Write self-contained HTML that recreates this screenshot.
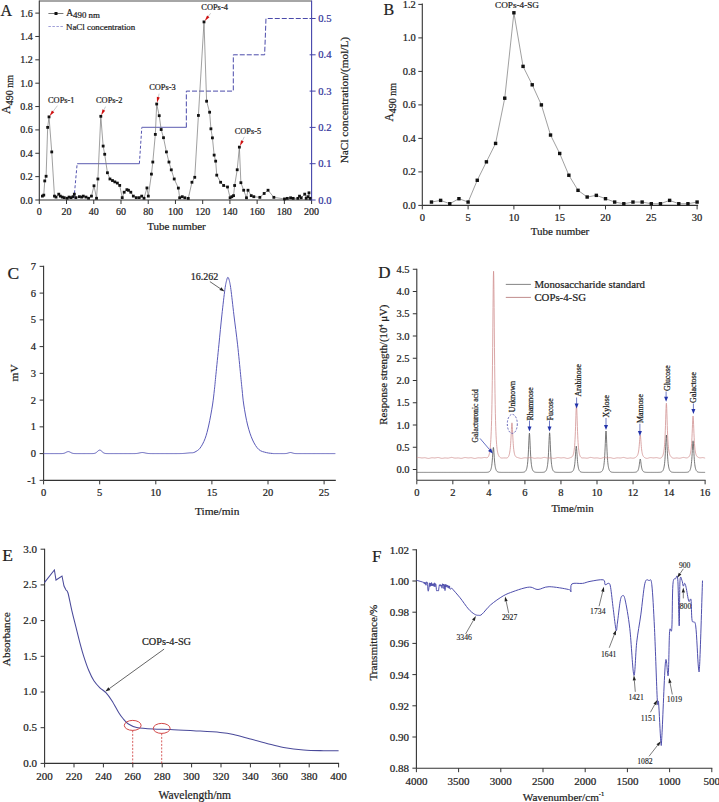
<!DOCTYPE html>
<html><head><meta charset="utf-8"><style>
html,body{margin:0;padding:0;background:#fff;}
svg{display:block;font-family:"Liberation Serif", serif;}
text{stroke:#222;stroke-width:0.22px;}
text.b{stroke:#33339a;}
text.n{stroke-width:0.12px;}
</style></head><body>
<svg width="719" height="802" viewBox="0 0 719 802">
<rect width="719" height="802" fill="#fff"/>
<line x1="39.30" y1="1.00" x2="311.60" y2="1.00" stroke="#888" stroke-width="1.3" />
<line x1="39.30" y1="0.50" x2="39.30" y2="200.00" stroke="#333" stroke-width="1.1" />
<line x1="39.30" y1="200.00" x2="311.60" y2="200.00" stroke="#333" stroke-width="1.1" />
<line x1="311.60" y1="0.50" x2="311.60" y2="200.00" stroke="#4444aa" stroke-width="1.1" />
<line x1="35.30" y1="200.00" x2="39.30" y2="200.00" stroke="#333" stroke-width="1" />
<text x="32.80" y="200.00" font-size="10" text-anchor="end" dominant-baseline="central" fill="#222" >0.0</text>
<line x1="35.30" y1="176.64" x2="39.30" y2="176.64" stroke="#333" stroke-width="1" />
<text x="32.80" y="176.64" font-size="10" text-anchor="end" dominant-baseline="central" fill="#222" >0.2</text>
<line x1="35.30" y1="153.28" x2="39.30" y2="153.28" stroke="#333" stroke-width="1" />
<text x="32.80" y="153.28" font-size="10" text-anchor="end" dominant-baseline="central" fill="#222" >0.4</text>
<line x1="35.30" y1="129.92" x2="39.30" y2="129.92" stroke="#333" stroke-width="1" />
<text x="32.80" y="129.92" font-size="10" text-anchor="end" dominant-baseline="central" fill="#222" >0.6</text>
<line x1="35.30" y1="106.56" x2="39.30" y2="106.56" stroke="#333" stroke-width="1" />
<text x="32.80" y="106.56" font-size="10" text-anchor="end" dominant-baseline="central" fill="#222" >0.8</text>
<line x1="35.30" y1="83.20" x2="39.30" y2="83.20" stroke="#333" stroke-width="1" />
<text x="32.80" y="83.20" font-size="10" text-anchor="end" dominant-baseline="central" fill="#222" >1.0</text>
<line x1="35.30" y1="59.84" x2="39.30" y2="59.84" stroke="#333" stroke-width="1" />
<text x="32.80" y="59.84" font-size="10" text-anchor="end" dominant-baseline="central" fill="#222" >1.2</text>
<line x1="35.30" y1="36.48" x2="39.30" y2="36.48" stroke="#333" stroke-width="1" />
<text x="32.80" y="36.48" font-size="10" text-anchor="end" dominant-baseline="central" fill="#222" >1.4</text>
<line x1="35.30" y1="13.12" x2="39.30" y2="13.12" stroke="#333" stroke-width="1" />
<text x="32.80" y="13.12" font-size="10" text-anchor="end" dominant-baseline="central" fill="#222" >1.6</text>
<line x1="39.30" y1="200.00" x2="39.30" y2="204.00" stroke="#333" stroke-width="1" />
<text x="39.30" y="211.70" font-size="10" text-anchor="middle" dominant-baseline="central" fill="#222" >0</text>
<line x1="66.53" y1="200.00" x2="66.53" y2="204.00" stroke="#333" stroke-width="1" />
<text x="66.53" y="211.70" font-size="10" text-anchor="middle" dominant-baseline="central" fill="#222" >20</text>
<line x1="93.76" y1="200.00" x2="93.76" y2="204.00" stroke="#333" stroke-width="1" />
<text x="93.76" y="211.70" font-size="10" text-anchor="middle" dominant-baseline="central" fill="#222" >40</text>
<line x1="120.99" y1="200.00" x2="120.99" y2="204.00" stroke="#333" stroke-width="1" />
<text x="120.99" y="211.70" font-size="10" text-anchor="middle" dominant-baseline="central" fill="#222" >60</text>
<line x1="148.22" y1="200.00" x2="148.22" y2="204.00" stroke="#333" stroke-width="1" />
<text x="148.22" y="211.70" font-size="10" text-anchor="middle" dominant-baseline="central" fill="#222" >80</text>
<line x1="175.45" y1="200.00" x2="175.45" y2="204.00" stroke="#333" stroke-width="1" />
<text x="175.45" y="211.70" font-size="10" text-anchor="middle" dominant-baseline="central" fill="#222" >100</text>
<line x1="202.68" y1="200.00" x2="202.68" y2="204.00" stroke="#333" stroke-width="1" />
<text x="202.68" y="211.70" font-size="10" text-anchor="middle" dominant-baseline="central" fill="#222" >120</text>
<line x1="229.91" y1="200.00" x2="229.91" y2="204.00" stroke="#333" stroke-width="1" />
<text x="229.91" y="211.70" font-size="10" text-anchor="middle" dominant-baseline="central" fill="#222" >140</text>
<line x1="257.14" y1="200.00" x2="257.14" y2="204.00" stroke="#333" stroke-width="1" />
<text x="257.14" y="211.70" font-size="10" text-anchor="middle" dominant-baseline="central" fill="#222" >160</text>
<line x1="284.37" y1="200.00" x2="284.37" y2="204.00" stroke="#333" stroke-width="1" />
<text x="284.37" y="211.70" font-size="10" text-anchor="middle" dominant-baseline="central" fill="#222" >180</text>
<line x1="311.60" y1="200.00" x2="311.60" y2="204.00" stroke="#333" stroke-width="1" />
<text x="311.60" y="211.70" font-size="10" text-anchor="middle" dominant-baseline="central" fill="#222" >200</text>
<line x1="309.60" y1="200.00" x2="315.60" y2="200.00" stroke="#4444aa" stroke-width="1" />
<text x="318.20" y="200.00" font-size="10.6" text-anchor="start" dominant-baseline="central" fill="#33339a" class="b">0.0</text>
<line x1="309.60" y1="163.70" x2="315.60" y2="163.70" stroke="#4444aa" stroke-width="1" />
<text x="318.20" y="163.70" font-size="10.6" text-anchor="start" dominant-baseline="central" fill="#33339a" class="b">0.1</text>
<line x1="309.60" y1="127.40" x2="315.60" y2="127.40" stroke="#4444aa" stroke-width="1" />
<text x="318.20" y="127.40" font-size="10.6" text-anchor="start" dominant-baseline="central" fill="#33339a" class="b">0.2</text>
<line x1="309.60" y1="91.10" x2="315.60" y2="91.10" stroke="#4444aa" stroke-width="1" />
<text x="318.20" y="91.10" font-size="10.6" text-anchor="start" dominant-baseline="central" fill="#33339a" class="b">0.3</text>
<line x1="309.60" y1="54.80" x2="315.60" y2="54.80" stroke="#4444aa" stroke-width="1" />
<text x="318.20" y="54.80" font-size="10.6" text-anchor="start" dominant-baseline="central" fill="#33339a" class="b">0.4</text>
<line x1="309.60" y1="18.50" x2="315.60" y2="18.50" stroke="#4444aa" stroke-width="1" />
<text x="318.20" y="18.50" font-size="10.6" text-anchor="start" dominant-baseline="central" fill="#33339a" class="b">0.5</text>
<text x="176.50" y="225.50" font-size="11" text-anchor="middle" dominant-baseline="central" fill="#222" >Tube number</text>
<text transform="translate(10,94.5) rotate(-90)" font-size="12" text-anchor="middle" fill="#222">A<tspan font-size="10" dy="3">490 nm</tspan></text>
<text transform="translate(347.8,100.1) rotate(-90)" font-size="11.3" text-anchor="middle" fill="#222">NaCl concentration/(mol/L)</text>
<text x="0.5" y="15.9" font-size="16" fill="#222">A</text>
<line x1="48.40" y1="13.50" x2="63.40" y2="13.50" stroke="#555" stroke-width="0.8" />
<rect x="54.5" y="12" width="3" height="3" fill="#111"/>
<text x="66.2" y="16.2" font-size="9.5" fill="#222">A<tspan font-size="8.9" dy="1.8">490 nm</tspan></text>
<line x1="48.40" y1="26.50" x2="63.40" y2="26.50" stroke="#a0a0d8" stroke-width="1" stroke-dasharray="2.5,1.5"/>
<text x="66" y="29.5" font-size="8.9" fill="#222">NaCl concentration</text>
<polyline points="74.02,198.19 77.15,163.70" fill="none" stroke="#5555b0" stroke-width="1" stroke-linejoin="round" stroke-dasharray="3,2"/>
<polyline points="77.15,163.70 139.37,163.70" fill="none" stroke="#7c7cc0" stroke-width="1.2" stroke-linejoin="round" />
<polyline points="139.37,163.70 141.82,127.40" fill="none" stroke="#5555b0" stroke-width="1" stroke-linejoin="round" stroke-dasharray="3,2"/>
<polyline points="141.82,127.40 186.34,127.40" fill="none" stroke="#7c7cc0" stroke-width="1.2" stroke-linejoin="round" />
<polyline points="186.34,127.40 186.34,91.10 233.31,91.10 233.31,54.80 264.63,54.80 265.99,18.50 311.60,18.50" fill="none" stroke="#4a4aaa" stroke-width="1" stroke-linejoin="round" stroke-dasharray="5,2"/>
<polyline points="42.40,196.11 43.76,195.14 44.74,180.93 46.10,176.25 47.66,127.38 49.02,116.87 51.74,151.92 54.47,196.11 56.03,197.09 58.75,194.17 60.31,196.11 62.26,197.09 64.21,197.67 67.13,198.26 69.07,197.09 71.02,197.67 72.97,196.70 74.33,194.17 75.89,197.67 79.39,196.70 81.73,197.09 83.29,196.11 86.01,197.09 88.54,198.26 91.46,196.11 94.00,185.79 96.53,198.26 97.89,178.98 100.81,116.29 103.15,146.07 104.70,154.25 107.43,172.75 109.96,178.98 112.49,180.54 114.83,181.90 117.36,183.07 119.70,185.40 122.23,197.67 124.17,192.22 126.90,189.69 128.46,190.27 130.79,192.22 133.33,196.11 136.25,197.67 139.17,197.67 141.70,196.11 144.03,198.26 146.95,187.94 148.32,196.11 151.43,174.11 152.80,162.04 155.33,134.39 156.69,104.02 159.22,115.70 161.17,129.52 163.50,137.70 166.43,151.92 168.96,162.04 171.29,169.83 174.21,178.98 178.36,188.08 179.66,197.78 182.25,196.70 184.83,197.78 188.28,198.43 191.95,182.26 194.75,177.30 198.41,115.44 204.00,21.90 206.60,101.21 209.62,112.20 210.92,128.80 212.42,137.86 214.15,155.10 215.66,161.14 216.74,175.15 220.62,182.26 223.63,185.49 227.51,187.00 230.10,197.78 231.82,196.70 233.55,195.63 234.63,185.49 237.21,169.76 239.37,147.12 240.88,182.69 243.68,190.24 246.48,197.78 247.99,190.24 251.23,195.63 253.81,196.70 259.85,197.35 264.16,193.47 268.04,190.24 273.86,197.35 284.49,198.93 287.27,198.37 290.61,197.81 293.17,198.37 297.84,198.37 299.51,196.15 301.18,197.81 304.74,194.14 306.18,198.37 307.85,196.70 308.97,192.81 310.08,198.37" fill="none" stroke="#777" stroke-width="0.7" stroke-linejoin="round" />
<rect x="41.00" y="194.71" width="2.8" height="2.8" fill="#111"/>
<rect x="42.36" y="193.74" width="2.8" height="2.8" fill="#111"/>
<rect x="43.34" y="179.53" width="2.8" height="2.8" fill="#111"/>
<rect x="44.70" y="174.85" width="2.8" height="2.8" fill="#111"/>
<rect x="46.26" y="125.98" width="2.8" height="2.8" fill="#111"/>
<rect x="47.62" y="115.47" width="2.8" height="2.8" fill="#111"/>
<rect x="50.34" y="150.52" width="2.8" height="2.8" fill="#111"/>
<rect x="53.07" y="194.71" width="2.8" height="2.8" fill="#111"/>
<rect x="54.63" y="195.69" width="2.8" height="2.8" fill="#111"/>
<rect x="57.35" y="192.77" width="2.8" height="2.8" fill="#111"/>
<rect x="58.91" y="194.71" width="2.8" height="2.8" fill="#111"/>
<rect x="60.86" y="195.69" width="2.8" height="2.8" fill="#111"/>
<rect x="62.81" y="196.27" width="2.8" height="2.8" fill="#111"/>
<rect x="65.73" y="196.86" width="2.8" height="2.8" fill="#111"/>
<rect x="67.67" y="195.69" width="2.8" height="2.8" fill="#111"/>
<rect x="69.62" y="196.27" width="2.8" height="2.8" fill="#111"/>
<rect x="71.57" y="195.30" width="2.8" height="2.8" fill="#111"/>
<rect x="72.93" y="192.77" width="2.8" height="2.8" fill="#111"/>
<rect x="74.49" y="196.27" width="2.8" height="2.8" fill="#111"/>
<rect x="77.99" y="195.30" width="2.8" height="2.8" fill="#111"/>
<rect x="80.33" y="195.69" width="2.8" height="2.8" fill="#111"/>
<rect x="81.89" y="194.71" width="2.8" height="2.8" fill="#111"/>
<rect x="84.61" y="195.69" width="2.8" height="2.8" fill="#111"/>
<rect x="87.14" y="196.86" width="2.8" height="2.8" fill="#111"/>
<rect x="90.06" y="194.71" width="2.8" height="2.8" fill="#111"/>
<rect x="92.60" y="184.39" width="2.8" height="2.8" fill="#111"/>
<rect x="95.13" y="196.86" width="2.8" height="2.8" fill="#111"/>
<rect x="96.49" y="177.58" width="2.8" height="2.8" fill="#111"/>
<rect x="99.41" y="114.89" width="2.8" height="2.8" fill="#111"/>
<rect x="101.75" y="144.67" width="2.8" height="2.8" fill="#111"/>
<rect x="103.30" y="152.85" width="2.8" height="2.8" fill="#111"/>
<rect x="106.03" y="171.35" width="2.8" height="2.8" fill="#111"/>
<rect x="108.56" y="177.58" width="2.8" height="2.8" fill="#111"/>
<rect x="111.09" y="179.14" width="2.8" height="2.8" fill="#111"/>
<rect x="113.43" y="180.50" width="2.8" height="2.8" fill="#111"/>
<rect x="115.96" y="181.67" width="2.8" height="2.8" fill="#111"/>
<rect x="118.30" y="184.00" width="2.8" height="2.8" fill="#111"/>
<rect x="120.83" y="196.27" width="2.8" height="2.8" fill="#111"/>
<rect x="122.77" y="190.82" width="2.8" height="2.8" fill="#111"/>
<rect x="125.50" y="188.29" width="2.8" height="2.8" fill="#111"/>
<rect x="127.06" y="188.87" width="2.8" height="2.8" fill="#111"/>
<rect x="129.39" y="190.82" width="2.8" height="2.8" fill="#111"/>
<rect x="131.93" y="194.71" width="2.8" height="2.8" fill="#111"/>
<rect x="134.85" y="196.27" width="2.8" height="2.8" fill="#111"/>
<rect x="137.77" y="196.27" width="2.8" height="2.8" fill="#111"/>
<rect x="140.30" y="194.71" width="2.8" height="2.8" fill="#111"/>
<rect x="142.63" y="196.86" width="2.8" height="2.8" fill="#111"/>
<rect x="145.55" y="186.54" width="2.8" height="2.8" fill="#111"/>
<rect x="146.92" y="194.71" width="2.8" height="2.8" fill="#111"/>
<rect x="150.03" y="172.71" width="2.8" height="2.8" fill="#111"/>
<rect x="151.40" y="160.64" width="2.8" height="2.8" fill="#111"/>
<rect x="153.93" y="132.99" width="2.8" height="2.8" fill="#111"/>
<rect x="155.29" y="102.62" width="2.8" height="2.8" fill="#111"/>
<rect x="157.82" y="114.30" width="2.8" height="2.8" fill="#111"/>
<rect x="159.77" y="128.12" width="2.8" height="2.8" fill="#111"/>
<rect x="162.10" y="136.30" width="2.8" height="2.8" fill="#111"/>
<rect x="165.03" y="150.52" width="2.8" height="2.8" fill="#111"/>
<rect x="167.56" y="160.64" width="2.8" height="2.8" fill="#111"/>
<rect x="169.89" y="168.43" width="2.8" height="2.8" fill="#111"/>
<rect x="172.81" y="177.58" width="2.8" height="2.8" fill="#111"/>
<rect x="176.96" y="186.68" width="2.8" height="2.8" fill="#111"/>
<rect x="178.26" y="196.38" width="2.8" height="2.8" fill="#111"/>
<rect x="180.85" y="195.30" width="2.8" height="2.8" fill="#111"/>
<rect x="183.43" y="196.38" width="2.8" height="2.8" fill="#111"/>
<rect x="186.88" y="197.03" width="2.8" height="2.8" fill="#111"/>
<rect x="190.55" y="180.86" width="2.8" height="2.8" fill="#111"/>
<rect x="193.35" y="175.90" width="2.8" height="2.8" fill="#111"/>
<rect x="197.01" y="114.04" width="2.8" height="2.8" fill="#111"/>
<rect x="202.60" y="20.50" width="2.8" height="2.8" fill="#111"/>
<rect x="205.20" y="99.81" width="2.8" height="2.8" fill="#111"/>
<rect x="208.22" y="110.80" width="2.8" height="2.8" fill="#111"/>
<rect x="209.52" y="127.40" width="2.8" height="2.8" fill="#111"/>
<rect x="211.02" y="136.46" width="2.8" height="2.8" fill="#111"/>
<rect x="212.75" y="153.70" width="2.8" height="2.8" fill="#111"/>
<rect x="214.26" y="159.74" width="2.8" height="2.8" fill="#111"/>
<rect x="215.34" y="173.75" width="2.8" height="2.8" fill="#111"/>
<rect x="219.22" y="180.86" width="2.8" height="2.8" fill="#111"/>
<rect x="222.23" y="184.09" width="2.8" height="2.8" fill="#111"/>
<rect x="226.11" y="185.60" width="2.8" height="2.8" fill="#111"/>
<rect x="228.70" y="196.38" width="2.8" height="2.8" fill="#111"/>
<rect x="230.42" y="195.30" width="2.8" height="2.8" fill="#111"/>
<rect x="232.15" y="194.23" width="2.8" height="2.8" fill="#111"/>
<rect x="233.23" y="184.09" width="2.8" height="2.8" fill="#111"/>
<rect x="235.81" y="168.36" width="2.8" height="2.8" fill="#111"/>
<rect x="237.97" y="145.72" width="2.8" height="2.8" fill="#111"/>
<rect x="239.48" y="181.29" width="2.8" height="2.8" fill="#111"/>
<rect x="242.28" y="188.84" width="2.8" height="2.8" fill="#111"/>
<rect x="245.08" y="196.38" width="2.8" height="2.8" fill="#111"/>
<rect x="246.59" y="188.84" width="2.8" height="2.8" fill="#111"/>
<rect x="249.83" y="194.23" width="2.8" height="2.8" fill="#111"/>
<rect x="252.41" y="195.30" width="2.8" height="2.8" fill="#111"/>
<rect x="258.45" y="195.95" width="2.8" height="2.8" fill="#111"/>
<rect x="262.76" y="192.07" width="2.8" height="2.8" fill="#111"/>
<rect x="266.64" y="188.84" width="2.8" height="2.8" fill="#111"/>
<rect x="272.46" y="195.95" width="2.8" height="2.8" fill="#111"/>
<rect x="283.09" y="197.53" width="2.8" height="2.8" fill="#111"/>
<rect x="285.87" y="196.97" width="2.8" height="2.8" fill="#111"/>
<rect x="289.21" y="196.41" width="2.8" height="2.8" fill="#111"/>
<rect x="291.77" y="196.97" width="2.8" height="2.8" fill="#111"/>
<rect x="296.44" y="196.97" width="2.8" height="2.8" fill="#111"/>
<rect x="298.11" y="194.75" width="2.8" height="2.8" fill="#111"/>
<rect x="299.78" y="196.41" width="2.8" height="2.8" fill="#111"/>
<rect x="303.34" y="192.74" width="2.8" height="2.8" fill="#111"/>
<rect x="304.78" y="196.97" width="2.8" height="2.8" fill="#111"/>
<rect x="306.45" y="195.30" width="2.8" height="2.8" fill="#111"/>
<rect x="307.57" y="191.41" width="2.8" height="2.8" fill="#111"/>
<rect x="308.68" y="196.97" width="2.8" height="2.8" fill="#111"/>
<text x="61.3" y="102.5" font-size="8.4" text-anchor="middle" fill="#222">COPs-1</text>
<line x1="57.40" y1="105.70" x2="52.51" y2="112.20" stroke="#aaa" stroke-width="0.6" />
<polygon points="49.62,116.04 51.91,110.50 54.31,112.31" fill="#d01010"/>
<text x="109.3" y="103.2" font-size="8.4" text-anchor="middle" fill="#222">COPs-2</text>
<line x1="105.62" y1="106.54" x2="103.40" y2="110.94" stroke="#aaa" stroke-width="0.6" />
<polygon points="101.24,115.23 102.51,109.37 105.19,110.73" fill="#d01010"/>
<text x="162.5" y="90.2" font-size="8.4" text-anchor="middle" fill="#222">COPs-3</text>
<line x1="159.15" y1="93.66" x2="158.09" y2="98.16" stroke="#aaa" stroke-width="0.6" />
<polygon points="156.98,102.83 156.86,96.84 159.78,97.54" fill="#d01010"/>
<text x="214.6" y="10.0" font-size="8.4" text-anchor="middle" fill="#222">COPs-4</text>
<line x1="210.69" y1="13.19" x2="207.65" y2="17.14" stroke="#aaa" stroke-width="0.6" />
<polygon points="204.73,20.95 207.07,15.43 209.45,17.26" fill="#d01010"/>
<text x="247.9" y="133.5" font-size="8.4" text-anchor="middle" fill="#222">COPs-5</text>
<line x1="244.26" y1="136.86" x2="241.97" y2="141.68" stroke="#aaa" stroke-width="0.6" />
<polygon points="239.91,146.02 241.04,140.13 243.75,141.42" fill="#d01010"/>
<line x1="422.30" y1="3.50" x2="422.30" y2="205.40" stroke="#333" stroke-width="1.1" />
<line x1="422.30" y1="205.40" x2="698.10" y2="205.40" stroke="#333" stroke-width="1.1" />
<line x1="418.30" y1="205.40" x2="422.30" y2="205.40" stroke="#333" stroke-width="1" />
<text x="415.80" y="205.40" font-size="10.5" text-anchor="end" dominant-baseline="central" fill="#222" >0.0</text>
<line x1="418.30" y1="171.90" x2="422.30" y2="171.90" stroke="#333" stroke-width="1" />
<text x="415.80" y="171.90" font-size="10.5" text-anchor="end" dominant-baseline="central" fill="#222" >0.2</text>
<line x1="418.30" y1="138.40" x2="422.30" y2="138.40" stroke="#333" stroke-width="1" />
<text x="415.80" y="138.40" font-size="10.5" text-anchor="end" dominant-baseline="central" fill="#222" >0.4</text>
<line x1="418.30" y1="104.90" x2="422.30" y2="104.90" stroke="#333" stroke-width="1" />
<text x="415.80" y="104.90" font-size="10.5" text-anchor="end" dominant-baseline="central" fill="#222" >0.6</text>
<line x1="418.30" y1="71.40" x2="422.30" y2="71.40" stroke="#333" stroke-width="1" />
<text x="415.80" y="71.40" font-size="10.5" text-anchor="end" dominant-baseline="central" fill="#222" >0.8</text>
<line x1="418.30" y1="37.90" x2="422.30" y2="37.90" stroke="#333" stroke-width="1" />
<text x="415.80" y="37.90" font-size="10.5" text-anchor="end" dominant-baseline="central" fill="#222" >1.0</text>
<line x1="418.30" y1="4.40" x2="422.30" y2="4.40" stroke="#333" stroke-width="1" />
<text x="415.80" y="4.40" font-size="10.5" text-anchor="end" dominant-baseline="central" fill="#222" >1.2</text>
<line x1="422.30" y1="205.40" x2="422.30" y2="209.40" stroke="#333" stroke-width="1" />
<text x="422.30" y="217.30" font-size="10.5" text-anchor="middle" dominant-baseline="central" fill="#222" >0</text>
<line x1="468.10" y1="205.40" x2="468.10" y2="209.40" stroke="#333" stroke-width="1" />
<text x="468.10" y="217.30" font-size="10.5" text-anchor="middle" dominant-baseline="central" fill="#222" >5</text>
<line x1="513.90" y1="205.40" x2="513.90" y2="209.40" stroke="#333" stroke-width="1" />
<text x="513.90" y="217.30" font-size="10.5" text-anchor="middle" dominant-baseline="central" fill="#222" >10</text>
<line x1="559.70" y1="205.40" x2="559.70" y2="209.40" stroke="#333" stroke-width="1" />
<text x="559.70" y="217.30" font-size="10.5" text-anchor="middle" dominant-baseline="central" fill="#222" >15</text>
<line x1="605.50" y1="205.40" x2="605.50" y2="209.40" stroke="#333" stroke-width="1" />
<text x="605.50" y="217.30" font-size="10.5" text-anchor="middle" dominant-baseline="central" fill="#222" >20</text>
<line x1="651.30" y1="205.40" x2="651.30" y2="209.40" stroke="#333" stroke-width="1" />
<text x="651.30" y="217.30" font-size="10.5" text-anchor="middle" dominant-baseline="central" fill="#222" >25</text>
<line x1="697.10" y1="205.40" x2="697.10" y2="209.40" stroke="#333" stroke-width="1" />
<text x="697.10" y="217.30" font-size="10.5" text-anchor="middle" dominant-baseline="central" fill="#222" >30</text>
<text x="560.00" y="231.00" font-size="11" text-anchor="middle" dominant-baseline="central" fill="#222" >Tube number</text>
<text transform="translate(393,102.3) rotate(-90)" font-size="11.5" text-anchor="middle" fill="#222">A<tspan font-size="10" dy="3.2">490 nm</tspan></text>
<text x="383.5" y="14.8" font-size="16" fill="#222">B</text>
<text x="517.00" y="4.60" font-size="9.2" text-anchor="middle" dominant-baseline="central" fill="#222" >COPs-4-SG</text>
<polyline points="431.46,202.05 440.62,200.38 449.78,203.72 458.94,198.70 468.10,202.05 477.26,180.28 486.42,161.85 495.58,143.43 504.74,98.20 513.90,12.78 523.06,66.38 532.22,84.80 541.38,104.90 550.54,135.05 559.70,153.48 568.86,175.25 578.02,190.33 587.18,197.03 596.34,195.35 605.50,198.70 614.66,202.05 623.82,203.72 632.98,202.05 642.14,202.05 651.30,203.72 660.46,203.72 669.62,200.38 678.78,203.72 687.94,203.72 697.10,202.05" fill="none" stroke="#777" stroke-width="0.7" stroke-linejoin="round" />
<rect x="429.76" y="200.35" width="3.4" height="3.4" fill="#111"/>
<rect x="438.92" y="198.68" width="3.4" height="3.4" fill="#111"/>
<rect x="448.08" y="202.03" width="3.4" height="3.4" fill="#111"/>
<rect x="457.24" y="197.00" width="3.4" height="3.4" fill="#111"/>
<rect x="466.40" y="200.35" width="3.4" height="3.4" fill="#111"/>
<rect x="475.56" y="178.58" width="3.4" height="3.4" fill="#111"/>
<rect x="484.72" y="160.15" width="3.4" height="3.4" fill="#111"/>
<rect x="493.88" y="141.73" width="3.4" height="3.4" fill="#111"/>
<rect x="503.04" y="96.50" width="3.4" height="3.4" fill="#111"/>
<rect x="512.20" y="11.08" width="3.4" height="3.4" fill="#111"/>
<rect x="521.36" y="64.67" width="3.4" height="3.4" fill="#111"/>
<rect x="530.52" y="83.10" width="3.4" height="3.4" fill="#111"/>
<rect x="539.68" y="103.20" width="3.4" height="3.4" fill="#111"/>
<rect x="548.84" y="133.35" width="3.4" height="3.4" fill="#111"/>
<rect x="558.00" y="151.78" width="3.4" height="3.4" fill="#111"/>
<rect x="567.16" y="173.55" width="3.4" height="3.4" fill="#111"/>
<rect x="576.32" y="188.63" width="3.4" height="3.4" fill="#111"/>
<rect x="585.48" y="195.33" width="3.4" height="3.4" fill="#111"/>
<rect x="594.64" y="193.65" width="3.4" height="3.4" fill="#111"/>
<rect x="603.80" y="197.00" width="3.4" height="3.4" fill="#111"/>
<rect x="612.96" y="200.35" width="3.4" height="3.4" fill="#111"/>
<rect x="622.12" y="202.03" width="3.4" height="3.4" fill="#111"/>
<rect x="631.28" y="200.35" width="3.4" height="3.4" fill="#111"/>
<rect x="640.44" y="200.35" width="3.4" height="3.4" fill="#111"/>
<rect x="649.60" y="202.03" width="3.4" height="3.4" fill="#111"/>
<rect x="658.76" y="202.03" width="3.4" height="3.4" fill="#111"/>
<rect x="667.92" y="198.68" width="3.4" height="3.4" fill="#111"/>
<rect x="677.08" y="202.03" width="3.4" height="3.4" fill="#111"/>
<rect x="686.24" y="202.03" width="3.4" height="3.4" fill="#111"/>
<rect x="695.40" y="200.35" width="3.4" height="3.4" fill="#111"/>
<line x1="43.60" y1="265.85" x2="43.60" y2="480.35" stroke="#333" stroke-width="1.1" />
<line x1="43.60" y1="480.35" x2="335.82" y2="480.35" stroke="#333" stroke-width="1.1" />
<line x1="39.60" y1="480.35" x2="43.60" y2="480.35" stroke="#333" stroke-width="1" />
<text x="36.10" y="480.35" font-size="10.5" text-anchor="end" dominant-baseline="central" fill="#222" >-1</text>
<line x1="39.60" y1="453.60" x2="43.60" y2="453.60" stroke="#333" stroke-width="1" />
<text x="36.10" y="453.60" font-size="10.5" text-anchor="end" dominant-baseline="central" fill="#222" >0</text>
<line x1="39.60" y1="426.85" x2="43.60" y2="426.85" stroke="#333" stroke-width="1" />
<text x="36.10" y="426.85" font-size="10.5" text-anchor="end" dominant-baseline="central" fill="#222" >1</text>
<line x1="39.60" y1="400.10" x2="43.60" y2="400.10" stroke="#333" stroke-width="1" />
<text x="36.10" y="400.10" font-size="10.5" text-anchor="end" dominant-baseline="central" fill="#222" >2</text>
<line x1="39.60" y1="373.35" x2="43.60" y2="373.35" stroke="#333" stroke-width="1" />
<text x="36.10" y="373.35" font-size="10.5" text-anchor="end" dominant-baseline="central" fill="#222" >3</text>
<line x1="39.60" y1="346.60" x2="43.60" y2="346.60" stroke="#333" stroke-width="1" />
<text x="36.10" y="346.60" font-size="10.5" text-anchor="end" dominant-baseline="central" fill="#222" >4</text>
<line x1="39.60" y1="319.85" x2="43.60" y2="319.85" stroke="#333" stroke-width="1" />
<text x="36.10" y="319.85" font-size="10.5" text-anchor="end" dominant-baseline="central" fill="#222" >5</text>
<line x1="39.60" y1="293.10" x2="43.60" y2="293.10" stroke="#333" stroke-width="1" />
<text x="36.10" y="293.10" font-size="10.5" text-anchor="end" dominant-baseline="central" fill="#222" >6</text>
<line x1="39.60" y1="266.35" x2="43.60" y2="266.35" stroke="#333" stroke-width="1" />
<text x="36.10" y="266.35" font-size="10.5" text-anchor="end" dominant-baseline="central" fill="#222" >7</text>
<line x1="43.60" y1="480.35" x2="43.60" y2="484.35" stroke="#333" stroke-width="1" />
<text x="43.60" y="492.50" font-size="10.5" text-anchor="middle" dominant-baseline="central" fill="#222" >0</text>
<line x1="99.70" y1="480.35" x2="99.70" y2="484.35" stroke="#333" stroke-width="1" />
<text x="99.70" y="492.50" font-size="10.5" text-anchor="middle" dominant-baseline="central" fill="#222" >5</text>
<line x1="155.80" y1="480.35" x2="155.80" y2="484.35" stroke="#333" stroke-width="1" />
<text x="155.80" y="492.50" font-size="10.5" text-anchor="middle" dominant-baseline="central" fill="#222" >10</text>
<line x1="211.90" y1="480.35" x2="211.90" y2="484.35" stroke="#333" stroke-width="1" />
<text x="211.90" y="492.50" font-size="10.5" text-anchor="middle" dominant-baseline="central" fill="#222" >15</text>
<line x1="268.00" y1="480.35" x2="268.00" y2="484.35" stroke="#333" stroke-width="1" />
<text x="268.00" y="492.50" font-size="10.5" text-anchor="middle" dominant-baseline="central" fill="#222" >20</text>
<line x1="324.10" y1="480.35" x2="324.10" y2="484.35" stroke="#333" stroke-width="1" />
<text x="324.10" y="492.50" font-size="10.5" text-anchor="middle" dominant-baseline="central" fill="#222" >25</text>
<text x="217.2" y="514.6" font-size="11.4" text-anchor="middle" fill="#222">Time/min</text>
<text transform="translate(18,372.9) rotate(-90)" font-size="11.4" text-anchor="middle" fill="#222">mV</text>
<text x="7.6" y="278.6" font-size="17.5" fill="#222">C</text>
<path d="M43.60,453.60 L44.16,453.60 L44.72,453.60 L45.28,453.60 L45.84,453.60 L46.41,453.60 L46.97,453.60 L47.53,453.60 L48.09,453.60 L48.65,453.60 L49.21,453.60 L49.77,453.60 L50.33,453.60 L50.89,453.60 L51.45,453.60 L52.02,453.60 L52.58,453.60 L53.14,453.60 L53.70,453.60 L54.26,453.60 L54.82,453.60 L55.38,453.60 L55.94,453.60 L56.50,453.60 L57.06,453.60 L57.62,453.60 L58.19,453.60 L58.75,453.60 L59.31,453.60 L59.87,453.60 L60.43,453.60 L60.99,453.59 L61.55,453.58 L62.11,453.55 L62.67,453.51 L63.23,453.44 L63.80,453.33 L64.36,453.17 L64.92,452.95 L65.48,452.68 L66.04,452.38 L66.60,452.09 L67.16,451.83 L67.72,451.66 L68.28,451.59 L68.84,451.66 L69.41,451.83 L69.97,452.09 L70.53,452.38 L71.09,452.68 L71.65,452.95 L72.21,453.17 L72.77,453.33 L73.33,453.44 L73.89,453.51 L74.45,453.55 L75.02,453.58 L75.58,453.59 L76.14,453.60 L76.70,453.60 L77.26,453.60 L77.82,453.60 L78.38,453.60 L78.94,453.60 L79.50,453.60 L80.06,453.60 L80.63,453.60 L81.19,453.60 L81.75,453.60 L82.31,453.60 L82.87,453.60 L83.43,453.60 L83.99,453.60 L84.55,453.60 L85.11,453.60 L85.68,453.60 L86.24,453.60 L86.80,453.60 L87.36,453.60 L87.92,453.60 L88.48,453.60 L89.04,453.60 L89.60,453.60 L90.16,453.60 L90.72,453.60 L91.28,453.60 L91.85,453.59 L92.41,453.58 L92.97,453.56 L93.53,453.52 L94.09,453.45 L94.65,453.32 L95.21,453.13 L95.77,452.85 L96.33,452.47 L96.90,452.01 L97.46,451.49 L98.02,450.98 L98.58,450.53 L99.14,450.23 L99.70,450.12 L100.26,450.23 L100.82,450.53 L101.38,450.98 L101.94,451.49 L102.50,452.01 L103.07,452.47 L103.63,452.85 L104.19,453.13 L104.75,453.32 L105.31,453.45 L105.87,453.52 L106.43,453.56 L106.99,453.58 L107.55,453.59 L108.12,453.60 L108.68,453.60 L109.24,453.60 L109.80,453.60 L110.36,453.60 L110.92,453.60 L111.48,453.60 L112.04,453.60 L112.60,453.60 L113.16,453.60 L113.72,453.60 L114.29,453.60 L114.85,453.60 L115.41,453.60 L115.97,453.60 L116.53,453.60 L117.09,453.60 L117.65,453.60 L118.21,453.60 L118.77,453.60 L119.34,453.60 L119.90,453.60 L120.46,453.60 L121.02,453.60 L121.58,453.60 L122.14,453.60 L122.70,453.60 L123.26,453.60 L123.82,453.60 L124.38,453.60 L124.94,453.60 L125.51,453.60 L126.07,453.60 L126.63,453.60 L127.19,453.60 L127.75,453.60 L128.31,453.60 L128.87,453.60 L129.43,453.60 L129.99,453.60 L130.56,453.60 L131.12,453.60 L131.68,453.60 L132.24,453.60 L132.80,453.60 L133.36,453.59 L133.92,453.59 L134.48,453.58 L135.04,453.56 L135.60,453.54 L136.17,453.50 L136.73,453.46 L137.29,453.39 L137.85,453.30 L138.41,453.20 L138.97,453.08 L139.53,452.95 L140.09,452.82 L140.65,452.71 L141.21,452.61 L141.78,452.55 L142.34,452.53 L142.90,452.55 L143.46,452.61 L144.02,452.71 L144.58,452.82 L145.14,452.95 L145.70,453.08 L146.26,453.20 L146.82,453.30 L147.39,453.39 L147.95,453.46 L148.51,453.50 L149.07,453.54 L149.63,453.56 L150.19,453.58 L150.75,453.59 L151.31,453.59 L151.87,453.60 L152.43,453.60 L153.00,453.60 L153.56,453.60 L154.12,453.60 L154.68,453.60 L155.24,453.60 L155.80,453.60 L156.36,453.60 L156.92,453.60 L157.48,453.60 L158.04,453.60 L158.61,453.60 L159.17,453.60 L159.73,453.60 L160.29,453.60 L160.85,453.60 L161.41,453.60 L161.97,453.60 L162.53,453.60 L163.09,453.60 L163.65,453.60 L164.22,453.60 L164.78,453.60 L165.34,453.60 L165.90,453.60 L166.46,453.60 L167.02,453.60 L167.58,453.60 L168.14,453.60 L168.70,453.60 L169.26,453.60 L169.83,453.60 L170.39,453.60 L170.95,453.60 L171.51,453.60 L172.07,453.60 L172.63,453.60 L173.19,453.60 L173.75,453.60 L174.31,453.60 L174.87,453.60 L175.44,453.60 L176.00,453.60 L176.56,453.60 L177.12,453.60 L177.68,453.59 L178.24,453.59 L178.80,453.59 L179.36,453.58 L179.92,453.57 L180.48,453.56 L181.05,453.55 L181.61,453.54 L182.17,453.52 L182.73,453.49 L183.29,453.46 L183.85,453.43 L184.41,453.39 L184.97,453.34 L185.53,453.29 L186.09,453.23 L186.66,453.17 L187.22,453.11 L187.78,453.05 L188.34,452.99 L188.90,452.94 L189.46,452.89 L190.02,452.85 L190.58,452.82 L191.14,452.80 L191.70,452.80 L192.27,452.80 L192.27,452.80 C192.72,452.67 193.71,452.77 195.00,452.00 C196.29,451.23 198.33,450.40 200.00,448.20 C201.67,446.00 203.53,442.67 205.00,438.80 C206.47,434.93 207.55,430.63 208.80,425.00 C210.05,419.37 211.57,410.88 212.50,405.00 C213.43,399.12 213.83,394.75 214.40,389.70 C214.97,384.65 215.15,382.18 215.90,374.70 C216.65,367.22 217.90,354.77 218.90,344.80 C219.90,334.83 220.90,324.13 221.90,314.90 C222.90,305.67 224.12,295.13 224.90,289.40 C225.68,283.67 226.10,282.52 226.60,280.50 C227.10,278.48 227.45,277.30 227.90,277.30 C228.35,277.30 228.80,278.48 229.30,280.50 C229.80,282.52 230.13,283.67 230.90,289.40 C231.67,295.13 232.78,305.67 233.90,314.90 C235.02,324.13 236.48,334.83 237.60,344.80 C238.72,354.77 239.85,367.22 240.60,374.70 C241.35,382.18 241.57,384.65 242.10,389.70 C242.63,394.75 242.88,399.12 243.80,405.00 C244.72,410.88 246.13,419.17 247.60,425.00 C249.07,430.83 250.73,435.92 252.60,440.00 C254.47,444.08 256.50,447.40 258.80,449.50 C261.10,451.60 263.93,451.92 266.40,452.60 C268.87,453.28 272.41,453.43 273.61,453.60 L273.61,453.60 L274.17,453.60 L274.73,453.60 L275.29,453.60 L275.85,453.60 L276.42,453.60 L276.98,453.60 L277.54,453.60 L278.10,453.60 L278.66,453.60 L279.22,453.60 L279.78,453.60 L280.34,453.60 L280.90,453.60 L281.46,453.60 L282.03,453.60 L282.59,453.60 L283.15,453.60 L283.71,453.60 L284.27,453.59 L284.83,453.58 L285.39,453.55 L285.95,453.51 L286.51,453.44 L287.07,453.33 L287.64,453.19 L288.20,453.02 L288.76,452.84 L289.32,452.68 L289.88,452.57 L290.44,452.53 L291.00,452.57 L291.56,452.68 L292.12,452.84 L292.68,453.02 L293.25,453.19 L293.81,453.33 L294.37,453.44 L294.93,453.51 L295.49,453.55 L296.05,453.58 L296.61,453.59 L297.17,453.60 L297.73,453.60 L298.29,453.60 L298.86,453.60 L299.42,453.60 L299.98,453.60 L300.54,453.60 L301.10,453.60 L301.66,453.60 L302.22,453.60 L302.78,453.60 L303.34,453.60 L303.90,453.60 L304.47,453.60 L305.03,453.60 L305.59,453.60 L306.15,453.60 L306.71,453.60 L307.27,453.60 L307.83,453.60 L308.39,453.60 L308.95,453.60 L309.51,453.60 L310.08,453.60 L310.64,453.60 L311.20,453.60 L311.76,453.60 L312.32,453.60 L312.88,453.60 L313.44,453.60 L314.00,453.60 L314.56,453.60 L315.12,453.60 L315.69,453.60 L316.25,453.60 L316.81,453.60 L317.37,453.60 L317.93,453.60 L318.49,453.60 L319.05,453.60 L319.61,453.60 L320.17,453.60 L320.73,453.60 L321.30,453.60 L321.86,453.60 L322.42,453.60 L322.98,453.60 L323.54,453.60 L324.10,453.60 L324.66,453.60 L325.22,453.60 L325.78,453.60 L326.34,453.60 L326.91,453.60 L327.47,453.60 L328.03,453.60 L328.59,453.60 L329.15,453.60 L329.71,453.60 L330.27,453.60 L330.83,453.60 L331.39,453.60 L331.95,453.60 L332.52,453.60 L333.08,453.60 L333.64,453.60 L334.20,453.60 L334.76,453.60 L335.32,453.60" fill="none" stroke="#5a5ab8" stroke-width="1"/>
<text x="204.60" y="276.00" font-size="10" text-anchor="middle" dominant-baseline="central" fill="#222" >16.262</text>
<line x1="209.90" y1="281.60" x2="220.36" y2="288.69" stroke="#222" stroke-width="0.7" />
<polygon points="224.50,291.50 219.41,290.10 221.32,287.29" fill="#222"/>
<line x1="416.80" y1="268.75" x2="416.80" y2="480.30" stroke="#333" stroke-width="1.1" />
<line x1="416.80" y1="480.30" x2="705.62" y2="480.30" stroke="#333" stroke-width="1.1" />
<line x1="412.80" y1="469.50" x2="416.80" y2="469.50" stroke="#333" stroke-width="1" />
<text x="409.60" y="469.50" font-size="10.5" text-anchor="end" dominant-baseline="central" fill="#222" >0.0</text>
<line x1="412.80" y1="447.25" x2="416.80" y2="447.25" stroke="#333" stroke-width="1" />
<text x="409.60" y="447.25" font-size="10.5" text-anchor="end" dominant-baseline="central" fill="#222" >0.5</text>
<line x1="412.80" y1="425.00" x2="416.80" y2="425.00" stroke="#333" stroke-width="1" />
<text x="409.60" y="425.00" font-size="10.5" text-anchor="end" dominant-baseline="central" fill="#222" >1.0</text>
<line x1="412.80" y1="402.75" x2="416.80" y2="402.75" stroke="#333" stroke-width="1" />
<text x="409.60" y="402.75" font-size="10.5" text-anchor="end" dominant-baseline="central" fill="#222" >1.5</text>
<line x1="412.80" y1="380.50" x2="416.80" y2="380.50" stroke="#333" stroke-width="1" />
<text x="409.60" y="380.50" font-size="10.5" text-anchor="end" dominant-baseline="central" fill="#222" >2.0</text>
<line x1="412.80" y1="358.25" x2="416.80" y2="358.25" stroke="#333" stroke-width="1" />
<text x="409.60" y="358.25" font-size="10.5" text-anchor="end" dominant-baseline="central" fill="#222" >2.5</text>
<line x1="412.80" y1="336.00" x2="416.80" y2="336.00" stroke="#333" stroke-width="1" />
<text x="409.60" y="336.00" font-size="10.5" text-anchor="end" dominant-baseline="central" fill="#222" >3.0</text>
<line x1="412.80" y1="313.75" x2="416.80" y2="313.75" stroke="#333" stroke-width="1" />
<text x="409.60" y="313.75" font-size="10.5" text-anchor="end" dominant-baseline="central" fill="#222" >3.5</text>
<line x1="412.80" y1="291.50" x2="416.80" y2="291.50" stroke="#333" stroke-width="1" />
<text x="409.60" y="291.50" font-size="10.5" text-anchor="end" dominant-baseline="central" fill="#222" >4.0</text>
<line x1="412.80" y1="269.25" x2="416.80" y2="269.25" stroke="#333" stroke-width="1" />
<text x="409.60" y="269.25" font-size="10.5" text-anchor="end" dominant-baseline="central" fill="#222" >4.5</text>
<line x1="416.80" y1="480.30" x2="416.80" y2="484.30" stroke="#333" stroke-width="1" />
<text x="416.80" y="492.50" font-size="10.5" text-anchor="middle" dominant-baseline="central" fill="#222" >0</text>
<line x1="452.84" y1="480.30" x2="452.84" y2="484.30" stroke="#333" stroke-width="1" />
<text x="452.84" y="492.50" font-size="10.5" text-anchor="middle" dominant-baseline="central" fill="#222" >2</text>
<line x1="488.88" y1="480.30" x2="488.88" y2="484.30" stroke="#333" stroke-width="1" />
<text x="488.88" y="492.50" font-size="10.5" text-anchor="middle" dominant-baseline="central" fill="#222" >4</text>
<line x1="524.92" y1="480.30" x2="524.92" y2="484.30" stroke="#333" stroke-width="1" />
<text x="524.92" y="492.50" font-size="10.5" text-anchor="middle" dominant-baseline="central" fill="#222" >6</text>
<line x1="560.96" y1="480.30" x2="560.96" y2="484.30" stroke="#333" stroke-width="1" />
<text x="560.96" y="492.50" font-size="10.5" text-anchor="middle" dominant-baseline="central" fill="#222" >8</text>
<line x1="597.00" y1="480.30" x2="597.00" y2="484.30" stroke="#333" stroke-width="1" />
<text x="597.00" y="492.50" font-size="10.5" text-anchor="middle" dominant-baseline="central" fill="#222" >10</text>
<line x1="633.04" y1="480.30" x2="633.04" y2="484.30" stroke="#333" stroke-width="1" />
<text x="633.04" y="492.50" font-size="10.5" text-anchor="middle" dominant-baseline="central" fill="#222" >12</text>
<line x1="669.08" y1="480.30" x2="669.08" y2="484.30" stroke="#333" stroke-width="1" />
<text x="669.08" y="492.50" font-size="10.5" text-anchor="middle" dominant-baseline="central" fill="#222" >14</text>
<line x1="705.12" y1="480.30" x2="705.12" y2="484.30" stroke="#333" stroke-width="1" />
<text x="705.12" y="492.50" font-size="10.5" text-anchor="middle" dominant-baseline="central" fill="#222" >16</text>
<text x="572.5" y="512.4" font-size="10.8" text-anchor="middle" fill="#222">Time/min</text>
<text transform="translate(387,364.6) rotate(-90)" font-size="10.9" text-anchor="middle" fill="#222">Response strength/(10<tspan font-size="6" dy="-4">4</tspan><tspan dy="4"> μV)</tspan></text>
<text x="378.3" y="278" font-size="17" fill="#222">D</text>
<line x1="505.80" y1="284.40" x2="530.90" y2="284.40" stroke="#666" stroke-width="0.8" />
<line x1="505.80" y1="297.40" x2="530.90" y2="297.40" stroke="#b07070" stroke-width="0.8" />
<text x="534.4" y="288.2" font-size="10.8" fill="#222">Monosaccharide standard</text>
<text x="534.4" y="301" font-size="10.8" fill="#222">COPs-4-SG</text>
<polyline points="416.80,472.39 416.98,472.39 417.16,472.39 417.34,472.39 417.52,472.39 417.70,472.39 417.88,472.39 418.06,472.39 418.24,472.39 418.42,472.39 418.60,472.39 418.78,472.39 418.96,472.39 419.14,472.39 419.32,472.39 419.50,472.39 419.68,472.39 419.86,472.39 420.04,472.39 420.22,472.39 420.40,472.39 420.58,472.39 420.76,472.39 420.94,472.39 421.12,472.39 421.31,472.39 421.49,472.39 421.67,472.39 421.85,472.39 422.03,472.39 422.21,472.39 422.39,472.39 422.57,472.39 422.75,472.39 422.93,472.39 423.11,472.39 423.29,472.39 423.47,472.39 423.65,472.39 423.83,472.39 424.01,472.39 424.19,472.39 424.37,472.39 424.55,472.39 424.73,472.39 424.91,472.39 425.09,472.39 425.27,472.39 425.45,472.39 425.63,472.39 425.81,472.39 425.99,472.39 426.17,472.39 426.35,472.39 426.53,472.39 426.71,472.39 426.89,472.39 427.07,472.39 427.25,472.39 427.43,472.39 427.61,472.39 427.79,472.39 427.97,472.39 428.15,472.39 428.33,472.39 428.51,472.39 428.69,472.39 428.87,472.39 429.05,472.39 429.23,472.39 429.41,472.39 429.59,472.39 429.77,472.39 429.95,472.39 430.13,472.39 430.31,472.39 430.50,472.39 430.68,472.39 430.86,472.39 431.04,472.39 431.22,472.39 431.40,472.39 431.58,472.39 431.76,472.39 431.94,472.39 432.12,472.39 432.30,472.39 432.48,472.39 432.66,472.39 432.84,472.39 433.02,472.39 433.20,472.39 433.38,472.39 433.56,472.39 433.74,472.39 433.92,472.39 434.10,472.39 434.28,472.39 434.46,472.39 434.64,472.39 434.82,472.39 435.00,472.39 435.18,472.39 435.36,472.39 435.54,472.39 435.72,472.39 435.90,472.39 436.08,472.39 436.26,472.39 436.44,472.39 436.62,472.39 436.80,472.39 436.98,472.39 437.16,472.39 437.34,472.39 437.52,472.39 437.70,472.39 437.88,472.39 438.06,472.39 438.24,472.39 438.42,472.39 438.60,472.39 438.78,472.39 438.96,472.39 439.14,472.39 439.32,472.39 439.51,472.39 439.69,472.39 439.87,472.39 440.05,472.39 440.23,472.39 440.41,472.39 440.59,472.39 440.77,472.39 440.95,472.39 441.13,472.39 441.31,472.39 441.49,472.39 441.67,472.39 441.85,472.39 442.03,472.39 442.21,472.39 442.39,472.39 442.57,472.39 442.75,472.39 442.93,472.39 443.11,472.39 443.29,472.39 443.47,472.39 443.65,472.39 443.83,472.39 444.01,472.39 444.19,472.39 444.37,472.39 444.55,472.39 444.73,472.39 444.91,472.39 445.09,472.39 445.27,472.39 445.45,472.39 445.63,472.39 445.81,472.39 445.99,472.39 446.17,472.39 446.35,472.39 446.53,472.39 446.71,472.39 446.89,472.39 447.07,472.39 447.25,472.39 447.43,472.39 447.61,472.39 447.79,472.39 447.97,472.39 448.15,472.39 448.34,472.39 448.52,472.39 448.70,472.39 448.88,472.39 449.06,472.39 449.24,472.39 449.42,472.39 449.60,472.39 449.78,472.39 449.96,472.39 450.14,472.39 450.32,472.39 450.50,472.39 450.68,472.39 450.86,472.39 451.04,472.39 451.22,472.39 451.40,472.39 451.58,472.39 451.76,472.39 451.94,472.39 452.12,472.39 452.30,472.39 452.48,472.39 452.66,472.39 452.84,472.39 453.02,472.39 453.20,472.39 453.38,472.39 453.56,472.39 453.74,472.39 453.92,472.39 454.10,472.39 454.28,472.39 454.46,472.39 454.64,472.39 454.82,472.39 455.00,472.39 455.18,472.39 455.36,472.39 455.54,472.39 455.72,472.39 455.90,472.39 456.08,472.39 456.26,472.39 456.44,472.39 456.62,472.39 456.80,472.39 456.98,472.39 457.16,472.39 457.35,472.39 457.53,472.39 457.71,472.39 457.89,472.39 458.07,472.39 458.25,472.39 458.43,472.39 458.61,472.39 458.79,472.39 458.97,472.39 459.15,472.39 459.33,472.39 459.51,472.39 459.69,472.39 459.87,472.39 460.05,472.39 460.23,472.39 460.41,472.39 460.59,472.39 460.77,472.39 460.95,472.39 461.13,472.39 461.31,472.39 461.49,472.39 461.67,472.39 461.85,472.39 462.03,472.39 462.21,472.39 462.39,472.39 462.57,472.39 462.75,472.39 462.93,472.39 463.11,472.39 463.29,472.39 463.47,472.39 463.65,472.39 463.83,472.39 464.01,472.39 464.19,472.39 464.37,472.39 464.55,472.39 464.73,472.39 464.91,472.39 465.09,472.39 465.27,472.39 465.45,472.39 465.63,472.39 465.81,472.39 465.99,472.39 466.17,472.39 466.36,472.39 466.54,472.39 466.72,472.39 466.90,472.39 467.08,472.39 467.26,472.39 467.44,472.39 467.62,472.39 467.80,472.39 467.98,472.39 468.16,472.39 468.34,472.39 468.52,472.39 468.70,472.39 468.88,472.39 469.06,472.39 469.24,472.39 469.42,472.39 469.60,472.39 469.78,472.39 469.96,472.39 470.14,472.39 470.32,472.39 470.50,472.39 470.68,472.39 470.86,472.39 471.04,472.39 471.22,472.39 471.40,472.39 471.58,472.39 471.76,472.39 471.94,472.39 472.12,472.39 472.30,472.39 472.48,472.39 472.66,472.39 472.84,472.39 473.02,472.39 473.20,472.39 473.38,472.39 473.56,472.39 473.74,472.39 473.92,472.39 474.10,472.39 474.28,472.39 474.46,472.39 474.64,472.39 474.82,472.39 475.00,472.39 475.18,472.39 475.37,472.39 475.55,472.39 475.73,472.39 475.91,472.39 476.09,472.39 476.27,472.39 476.45,472.39 476.63,472.39 476.81,472.39 476.99,472.39 477.17,472.39 477.35,472.39 477.53,472.39 477.71,472.39 477.89,472.39 478.07,472.39 478.25,472.39 478.43,472.39 478.61,472.39 478.79,472.39 478.97,472.39 479.15,472.39 479.33,472.39 479.51,472.39 479.69,472.39 479.87,472.39 480.05,472.39 480.23,472.39 480.41,472.39 480.59,472.39 480.77,472.39 480.95,472.39 481.13,472.39 481.31,472.39 481.49,472.39 481.67,472.39 481.85,472.39 482.03,472.39 482.21,472.39 482.39,472.39 482.57,472.39 482.75,472.39 482.93,472.39 483.11,472.39 483.29,472.39 483.47,472.39 483.65,472.39 483.83,472.39 484.01,472.39 484.19,472.39 484.38,472.39 484.56,472.39 484.74,472.39 484.92,472.39 485.10,472.38 485.28,472.38 485.46,472.38 485.64,472.38 485.82,472.37 486.00,472.37 486.18,472.37 486.36,472.36 486.54,472.35 486.72,472.34 486.90,472.33 487.08,472.32 487.26,472.30 487.44,472.28 487.62,472.26 487.80,472.24 487.98,472.21 488.16,472.17 488.34,472.12 488.52,472.07 488.70,472.01 488.88,471.94 489.06,471.86 489.24,471.76 489.42,471.64 489.60,471.50 489.78,471.33 489.96,471.14 490.14,470.91 490.32,470.63 490.50,470.31 490.68,469.92 490.86,469.45 491.04,468.90 491.22,468.23 491.40,467.42 491.58,466.44 491.76,465.25 491.94,463.81 492.12,462.08 492.30,460.03 492.48,457.66 492.66,455.02 492.84,452.32 493.02,449.87 493.20,448.11 493.38,447.47 493.57,448.11 493.75,449.87 493.93,452.32 494.11,455.02 494.29,457.66 494.47,460.03 494.65,462.08 494.83,463.81 495.01,465.25 495.19,466.44 495.37,467.42 495.55,468.23 495.73,468.90 495.91,469.45 496.09,469.92 496.27,470.31 496.45,470.63 496.63,470.91 496.81,471.14 496.99,471.33 497.17,471.50 497.35,471.64 497.53,471.76 497.71,471.86 497.89,471.94 498.07,472.01 498.25,472.07 498.43,472.12 498.61,472.17 498.79,472.21 498.97,472.24 499.15,472.26 499.33,472.28 499.51,472.30 499.69,472.32 499.87,472.33 500.05,472.34 500.23,472.35 500.41,472.36 500.59,472.37 500.77,472.37 500.95,472.37 501.13,472.38 501.31,472.38 501.49,472.38 501.67,472.38 501.85,472.39 502.03,472.39 502.21,472.39 502.39,472.39 502.58,472.39 502.76,472.39 502.94,472.39 503.12,472.39 503.30,472.39 503.48,472.39 503.66,472.39 503.84,472.39 504.02,472.39 504.20,472.39 504.38,472.39 504.56,472.39 504.74,472.39 504.92,472.39 505.10,472.39 505.28,472.39 505.46,472.39 505.64,472.39 505.82,472.39 506.00,472.39 506.18,472.39 506.36,472.39 506.54,472.39 506.72,472.39 506.90,472.39 507.08,472.39 507.26,472.39 507.44,472.39 507.62,472.39 507.80,472.39 507.98,472.39 508.16,472.39 508.34,472.39 508.52,472.39 508.70,472.39 508.88,472.39 509.06,472.39 509.24,472.39 509.42,472.39 509.60,472.39 509.78,472.39 509.96,472.39 510.14,472.39 510.32,472.39 510.50,472.39 510.68,472.39 510.86,472.39 511.04,472.39 511.22,472.39 511.41,472.39 511.59,472.39 511.77,472.39 511.95,472.39 512.13,472.39 512.31,472.39 512.49,472.39 512.67,472.39 512.85,472.39 513.03,472.39 513.21,472.39 513.39,472.39 513.57,472.39 513.75,472.39 513.93,472.39 514.11,472.39 514.29,472.39 514.47,472.39 514.65,472.39 514.83,472.39 515.01,472.39 515.19,472.39 515.37,472.39 515.55,472.39 515.73,472.39 515.91,472.39 516.09,472.39 516.27,472.39 516.45,472.39 516.63,472.39 516.81,472.39 516.99,472.39 517.17,472.39 517.35,472.39 517.53,472.39 517.71,472.39 517.89,472.39 518.07,472.39 518.25,472.39 518.43,472.39 518.61,472.39 518.79,472.39 518.97,472.39 519.15,472.39 519.33,472.39 519.51,472.39 519.69,472.39 519.87,472.39 520.05,472.39 520.23,472.39 520.41,472.39 520.60,472.39 520.78,472.38 520.96,472.38 521.14,472.38 521.32,472.38 521.50,472.37 521.68,472.37 521.86,472.36 522.04,472.36 522.22,472.35 522.40,472.34 522.58,472.33 522.76,472.31 522.94,472.30 523.12,472.28 523.30,472.25 523.48,472.22 523.66,472.19 523.84,472.15 524.02,472.10 524.20,472.04 524.38,471.97 524.56,471.89 524.74,471.80 524.92,471.68 525.10,471.55 525.28,471.39 525.46,471.21 525.64,470.99 525.82,470.73 526.00,470.42 526.18,470.06 526.36,469.63 526.54,469.12 526.72,468.51 526.90,467.78 527.08,466.90 527.26,465.85 527.44,464.57 527.62,463.03 527.80,461.17 527.98,458.91 528.16,456.19 528.34,452.97 528.52,449.23 528.70,445.10 528.88,440.85 529.06,436.99 529.24,434.24 529.42,433.23 529.61,434.24 529.79,436.99 529.97,440.85 530.15,445.10 530.33,449.23 530.51,452.97 530.69,456.19 530.87,458.91 531.05,461.17 531.23,463.03 531.41,464.57 531.59,465.85 531.77,466.90 531.95,467.78 532.13,468.51 532.31,469.12 532.49,469.63 532.67,470.06 532.85,470.42 533.03,470.73 533.21,470.99 533.39,471.21 533.57,471.39 533.75,471.55 533.93,471.68 534.11,471.80 534.29,471.89 534.47,471.97 534.65,472.04 534.83,472.10 535.01,472.15 535.19,472.19 535.37,472.22 535.55,472.25 535.73,472.28 535.91,472.30 536.09,472.31 536.27,472.33 536.45,472.34 536.63,472.35 536.81,472.36 536.99,472.36 537.17,472.37 537.35,472.37 537.53,472.38 537.71,472.38 537.89,472.38 538.07,472.38 538.25,472.39 538.43,472.39 538.62,472.39 538.80,472.39 538.98,472.39 539.16,472.39 539.34,472.39 539.52,472.39 539.70,472.39 539.88,472.39 540.06,472.39 540.24,472.39 540.42,472.39 540.60,472.39 540.78,472.39 540.96,472.38 541.14,472.38 541.32,472.38 541.50,472.38 541.68,472.37 541.86,472.37 542.04,472.36 542.22,472.36 542.40,472.35 542.58,472.34 542.76,472.33 542.94,472.31 543.12,472.30 543.30,472.28 543.48,472.25 543.66,472.22 543.84,472.19 544.02,472.14 544.20,472.10 544.38,472.04 544.56,471.97 544.74,471.89 544.92,471.79 545.10,471.67 545.28,471.54 545.46,471.38 545.64,471.19 545.82,470.97 546.00,470.71 546.18,470.40 546.36,470.03 546.54,469.60 546.72,469.08 546.90,468.46 547.08,467.72 547.26,466.84 547.45,465.77 547.63,464.48 547.81,462.93 547.99,461.04 548.17,458.75 548.35,456.01 548.53,452.74 548.71,448.97 548.89,444.79 549.07,440.49 549.25,436.59 549.43,433.81 549.61,432.79 549.79,433.81 549.97,436.59 550.15,440.49 550.33,444.79 550.51,448.97 550.69,452.74 550.87,456.01 551.05,458.75 551.23,461.04 551.41,462.93 551.59,464.48 551.77,465.77 551.95,466.84 552.13,467.72 552.31,468.46 552.49,469.08 552.67,469.60 552.85,470.03 553.03,470.40 553.21,470.71 553.39,470.97 553.57,471.19 553.75,471.38 553.93,471.54 554.11,471.67 554.29,471.79 554.47,471.89 554.65,471.97 554.83,472.04 555.01,472.10 555.19,472.14 555.37,472.19 555.55,472.22 555.73,472.25 555.91,472.28 556.09,472.30 556.27,472.31 556.46,472.33 556.64,472.34 556.82,472.35 557.00,472.36 557.18,472.36 557.36,472.37 557.54,472.37 557.72,472.38 557.90,472.38 558.08,472.38 558.26,472.38 558.44,472.39 558.62,472.39 558.80,472.39 558.98,472.39 559.16,472.39 559.34,472.39 559.52,472.39 559.70,472.39 559.88,472.39 560.06,472.39 560.24,472.39 560.42,472.39 560.60,472.39 560.78,472.39 560.96,472.39 561.14,472.39 561.32,472.39 561.50,472.39 561.68,472.39 561.86,472.39 562.04,472.39 562.22,472.39 562.40,472.39 562.58,472.39 562.76,472.39 562.94,472.39 563.12,472.39 563.30,472.39 563.48,472.39 563.66,472.39 563.84,472.39 564.02,472.39 564.20,472.39 564.38,472.39 564.56,472.39 564.74,472.39 564.92,472.39 565.10,472.39 565.28,472.39 565.47,472.39 565.65,472.39 565.83,472.39 566.01,472.39 566.19,472.39 566.37,472.39 566.55,472.39 566.73,472.39 566.91,472.39 567.09,472.39 567.27,472.39 567.45,472.39 567.63,472.39 567.81,472.39 567.99,472.38 568.17,472.38 568.35,472.38 568.53,472.38 568.71,472.37 568.89,472.37 569.07,472.36 569.25,472.36 569.43,472.35 569.61,472.34 569.79,472.33 569.97,472.31 570.15,472.30 570.33,472.28 570.51,472.26 570.69,472.23 570.87,472.20 571.05,472.16 571.23,472.11 571.41,472.06 571.59,471.99 571.77,471.92 571.95,471.83 572.13,471.72 572.31,471.60 572.49,471.45 572.67,471.28 572.85,471.07 573.03,470.83 573.21,470.54 573.39,470.20 573.57,469.79 573.75,469.30 573.93,468.71 574.11,468.00 574.29,467.15 574.48,466.12 574.66,464.87 574.84,463.35 575.02,461.53 575.20,459.37 575.38,456.87 575.56,454.09 575.74,451.24 575.92,448.66 576.10,446.81 576.28,446.14 576.46,446.81 576.64,448.66 576.82,451.24 577.00,454.09 577.18,456.87 577.36,459.37 577.54,461.53 577.72,463.35 577.90,464.87 578.08,466.12 578.26,467.15 578.44,468.00 578.62,468.71 578.80,469.30 578.98,469.79 579.16,470.20 579.34,470.54 579.52,470.83 579.70,471.07 579.88,471.28 580.06,471.45 580.24,471.60 580.42,471.72 580.60,471.83 580.78,471.92 580.96,471.99 581.14,472.06 581.32,472.11 581.50,472.16 581.68,472.20 581.86,472.23 582.04,472.26 582.22,472.28 582.40,472.30 582.58,472.31 582.76,472.33 582.94,472.34 583.12,472.35 583.30,472.36 583.49,472.36 583.67,472.37 583.85,472.37 584.03,472.38 584.21,472.38 584.39,472.38 584.57,472.38 584.75,472.39 584.93,472.39 585.11,472.39 585.29,472.39 585.47,472.39 585.65,472.39 585.83,472.39 586.01,472.39 586.19,472.39 586.37,472.39 586.55,472.39 586.73,472.39 586.91,472.39 587.09,472.39 587.27,472.39 587.45,472.39 587.63,472.39 587.81,472.39 587.99,472.39 588.17,472.39 588.35,472.39 588.53,472.39 588.71,472.39 588.89,472.39 589.07,472.39 589.25,472.39 589.43,472.39 589.61,472.39 589.79,472.39 589.97,472.39 590.15,472.39 590.33,472.39 590.51,472.39 590.69,472.39 590.87,472.39 591.05,472.39 591.23,472.39 591.41,472.39 591.59,472.39 591.77,472.39 591.95,472.39 592.13,472.39 592.31,472.39 592.50,472.39 592.68,472.39 592.86,472.39 593.04,472.39 593.22,472.39 593.40,472.39 593.58,472.39 593.76,472.39 593.94,472.39 594.12,472.39 594.30,472.39 594.48,472.39 594.66,472.39 594.84,472.39 595.02,472.39 595.20,472.39 595.38,472.39 595.56,472.39 595.74,472.39 595.92,472.39 596.10,472.39 596.28,472.39 596.46,472.39 596.64,472.39 596.82,472.39 597.00,472.39 597.18,472.39 597.36,472.38 597.54,472.38 597.72,472.38 597.90,472.38 598.08,472.37 598.26,472.37 598.44,472.36 598.62,472.36 598.80,472.35 598.98,472.34 599.16,472.32 599.34,472.31 599.52,472.29 599.70,472.27 599.88,472.24 600.06,472.21 600.24,472.18 600.42,472.13 600.60,472.08 600.78,472.02 600.96,471.95 601.14,471.86 601.32,471.76 601.50,471.64 601.69,471.50 601.87,471.33 602.05,471.14 602.23,470.91 602.41,470.63 602.59,470.31 602.77,469.93 602.95,469.47 603.13,468.93 603.31,468.29 603.49,467.51 603.67,466.59 603.85,465.47 604.03,464.13 604.21,462.50 604.39,460.53 604.57,458.14 604.75,455.27 604.93,451.86 605.11,447.92 605.29,443.55 605.47,439.05 605.65,434.98 605.83,432.07 606.01,431.01 606.19,432.07 606.37,434.98 606.55,439.05 606.73,443.55 606.91,447.92 607.09,451.86 607.27,455.27 607.45,458.14 607.63,460.53 607.81,462.50 607.99,464.13 608.17,465.47 608.35,466.59 608.53,467.51 608.71,468.29 608.89,468.93 609.07,469.47 609.25,469.93 609.43,470.31 609.61,470.63 609.79,470.91 609.97,471.14 610.15,471.33 610.33,471.50 610.51,471.64 610.70,471.76 610.88,471.86 611.06,471.95 611.24,472.02 611.42,472.08 611.60,472.13 611.78,472.18 611.96,472.21 612.14,472.24 612.32,472.27 612.50,472.29 612.68,472.31 612.86,472.32 613.04,472.34 613.22,472.35 613.40,472.36 613.58,472.36 613.76,472.37 613.94,472.37 614.12,472.38 614.30,472.38 614.48,472.38 614.66,472.38 614.84,472.39 615.02,472.39 615.20,472.39 615.38,472.39 615.56,472.39 615.74,472.39 615.92,472.39 616.10,472.39 616.28,472.39 616.46,472.39 616.64,472.39 616.82,472.39 617.00,472.39 617.18,472.39 617.36,472.39 617.54,472.39 617.72,472.39 617.90,472.39 618.08,472.39 618.26,472.39 618.44,472.39 618.62,472.39 618.80,472.39 618.98,472.39 619.16,472.39 619.34,472.39 619.52,472.39 619.71,472.39 619.89,472.39 620.07,472.39 620.25,472.39 620.43,472.39 620.61,472.39 620.79,472.39 620.97,472.39 621.15,472.39 621.33,472.39 621.51,472.39 621.69,472.39 621.87,472.39 622.05,472.39 622.23,472.39 622.41,472.39 622.59,472.39 622.77,472.39 622.95,472.39 623.13,472.39 623.31,472.39 623.49,472.39 623.67,472.39 623.85,472.39 624.03,472.39 624.21,472.39 624.39,472.39 624.57,472.39 624.75,472.39 624.93,472.39 625.11,472.39 625.29,472.39 625.47,472.39 625.65,472.39 625.83,472.39 626.01,472.39 626.19,472.39 626.37,472.39 626.55,472.39 626.73,472.39 626.91,472.39 627.09,472.39 627.27,472.39 627.45,472.39 627.63,472.39 627.81,472.39 627.99,472.39 628.17,472.39 628.35,472.39 628.53,472.39 628.72,472.39 628.90,472.39 629.08,472.39 629.26,472.39 629.44,472.39 629.62,472.39 629.80,472.39 629.98,472.39 630.16,472.39 630.34,472.39 630.52,472.39 630.70,472.39 630.88,472.39 631.06,472.39 631.24,472.39 631.42,472.39 631.60,472.39 631.78,472.39 631.96,472.39 632.14,472.39 632.32,472.39 632.50,472.38 632.68,472.38 632.86,472.38 633.04,472.38 633.22,472.37 633.40,472.37 633.58,472.37 633.76,472.36 633.94,472.35 634.12,472.34 634.30,472.33 634.48,472.32 634.66,472.31 634.84,472.29 635.02,472.27 635.20,472.25 635.38,472.22 635.56,472.19 635.74,472.15 635.92,472.10 636.10,472.05 636.28,471.99 636.46,471.91 636.64,471.82 636.82,471.72 637.00,471.60 637.18,471.45 637.36,471.28 637.55,471.07 637.73,470.82 637.91,470.52 638.09,470.16 638.27,469.73 638.45,469.20 638.63,468.56 638.81,467.79 638.99,466.87 639.17,465.77 639.35,464.50 639.53,463.09 639.71,461.64 639.89,460.32 640.07,459.39 640.25,459.04 640.43,459.39 640.61,460.32 640.79,461.64 640.97,463.09 641.15,464.50 641.33,465.77 641.51,466.87 641.69,467.79 641.87,468.56 642.05,469.20 642.23,469.73 642.41,470.16 642.59,470.52 642.77,470.82 642.95,471.07 643.13,471.28 643.31,471.45 643.49,471.60 643.67,471.72 643.85,471.82 644.03,471.91 644.21,471.99 644.39,472.05 644.57,472.10 644.75,472.15 644.93,472.19 645.11,472.22 645.29,472.25 645.47,472.27 645.65,472.29 645.83,472.31 646.01,472.32 646.19,472.33 646.37,472.34 646.56,472.35 646.74,472.36 646.92,472.37 647.10,472.37 647.28,472.37 647.46,472.38 647.64,472.38 647.82,472.38 648.00,472.38 648.18,472.39 648.36,472.39 648.54,472.39 648.72,472.39 648.90,472.39 649.08,472.39 649.26,472.39 649.44,472.39 649.62,472.39 649.80,472.39 649.98,472.39 650.16,472.39 650.34,472.39 650.52,472.39 650.70,472.39 650.88,472.39 651.06,472.39 651.24,472.39 651.42,472.39 651.60,472.39 651.78,472.39 651.96,472.39 652.14,472.39 652.32,472.39 652.50,472.39 652.68,472.39 652.86,472.39 653.04,472.39 653.22,472.39 653.40,472.39 653.58,472.39 653.76,472.39 653.94,472.39 654.12,472.39 654.30,472.39 654.48,472.39 654.66,472.39 654.84,472.39 655.02,472.39 655.20,472.39 655.38,472.39 655.57,472.39 655.75,472.39 655.93,472.39 656.11,472.39 656.29,472.39 656.47,472.39 656.65,472.39 656.83,472.39 657.01,472.39 657.19,472.39 657.37,472.39 657.55,472.39 657.73,472.39 657.91,472.38 658.09,472.38 658.27,472.38 658.45,472.37 658.63,472.37 658.81,472.37 658.99,472.36 659.17,472.35 659.35,472.34 659.53,472.33 659.71,472.32 659.89,472.30 660.07,472.28 660.25,472.26 660.43,472.23 660.61,472.20 660.79,472.16 660.97,472.11 661.15,472.06 661.33,471.99 661.51,471.91 661.69,471.82 661.87,471.71 662.05,471.59 662.23,471.44 662.41,471.26 662.59,471.05 662.77,470.80 662.95,470.51 663.13,470.16 663.31,469.75 663.49,469.27 663.67,468.68 663.85,467.99 664.03,467.15 664.21,466.14 664.39,464.93 664.58,463.46 664.76,461.68 664.94,459.52 665.12,456.93 665.30,453.85 665.48,450.29 665.66,446.34 665.84,442.28 666.02,438.60 666.20,435.97 666.38,435.01 666.56,435.97 666.74,438.60 666.92,442.28 667.10,446.34 667.28,450.29 667.46,453.85 667.64,456.93 667.82,459.52 668.00,461.68 668.18,463.46 668.36,464.93 668.54,466.14 668.72,467.15 668.90,467.99 669.08,468.68 669.26,469.27 669.44,469.75 669.62,470.16 669.80,470.51 669.98,470.80 670.16,471.05 670.34,471.26 670.52,471.44 670.70,471.59 670.88,471.71 671.06,471.82 671.24,471.91 671.42,471.99 671.60,472.06 671.78,472.11 671.96,472.16 672.14,472.20 672.32,472.23 672.50,472.26 672.68,472.28 672.86,472.30 673.04,472.32 673.22,472.33 673.40,472.34 673.59,472.35 673.77,472.36 673.95,472.37 674.13,472.37 674.31,472.37 674.49,472.38 674.67,472.38 674.85,472.38 675.03,472.39 675.21,472.39 675.39,472.39 675.57,472.39 675.75,472.39 675.93,472.39 676.11,472.39 676.29,472.39 676.47,472.39 676.65,472.39 676.83,472.39 677.01,472.39 677.19,472.39 677.37,472.39 677.55,472.39 677.73,472.39 677.91,472.39 678.09,472.39 678.27,472.39 678.45,472.39 678.63,472.39 678.81,472.39 678.99,472.39 679.17,472.39 679.35,472.39 679.53,472.39 679.71,472.39 679.89,472.39 680.07,472.39 680.25,472.39 680.43,472.39 680.61,472.39 680.79,472.39 680.97,472.39 681.15,472.39 681.33,472.39 681.51,472.39 681.69,472.39 681.87,472.39 682.05,472.39 682.23,472.39 682.41,472.39 682.60,472.39 682.78,472.39 682.96,472.39 683.14,472.39 683.32,472.39 683.50,472.39 683.68,472.39 683.86,472.39 684.04,472.39 684.22,472.39 684.40,472.39 684.58,472.38 684.76,472.38 684.94,472.38 685.12,472.38 685.30,472.37 685.48,472.37 685.66,472.36 685.84,472.36 686.02,472.35 686.20,472.34 686.38,472.33 686.56,472.32 686.74,472.30 686.92,472.28 687.10,472.26 687.28,472.23 687.46,472.19 687.64,472.16 687.82,472.11 688.00,472.05 688.18,471.99 688.36,471.91 688.54,471.82 688.72,471.71 688.90,471.58 689.08,471.43 689.26,471.26 689.44,471.05 689.62,470.80 689.80,470.51 689.98,470.16 690.16,469.75 690.34,469.26 690.52,468.67 690.70,467.96 690.88,467.11 691.06,466.08 691.24,464.84 691.42,463.33 691.61,461.51 691.79,459.32 691.97,456.72 692.15,453.71 692.33,450.37 692.51,446.94 692.69,443.83 692.87,441.61 693.05,440.80 693.23,441.61 693.41,443.83 693.59,446.94 693.77,450.37 693.95,453.71 694.13,456.72 694.31,459.32 694.49,461.51 694.67,463.33 694.85,464.84 695.03,466.08 695.21,467.11 695.39,467.96 695.57,468.67 695.75,469.26 695.93,469.75 696.11,470.16 696.29,470.51 696.47,470.80 696.65,471.05 696.83,471.26 697.01,471.43 697.19,471.58 697.37,471.71 697.55,471.82 697.73,471.91 697.91,471.99 698.09,472.05 698.27,472.11 698.45,472.16 698.63,472.19 698.81,472.23 698.99,472.26 699.17,472.28 699.35,472.30 699.53,472.32 699.71,472.33 699.89,472.34 700.07,472.35 700.25,472.36 700.43,472.36 700.62,472.37 700.80,472.37 700.98,472.38 701.16,472.38 701.34,472.38 701.52,472.38 701.70,472.39 701.88,472.39 702.06,472.39 702.24,472.39 702.42,472.39 702.60,472.39 702.78,472.39 702.96,472.39 703.14,472.39 703.32,472.39 703.50,472.39 703.68,472.39 703.86,472.39 704.04,472.39 704.22,472.39 704.40,472.39 704.58,472.39 704.76,472.39 704.94,472.39 705.12,472.39" fill="none" stroke="#555" stroke-width="0.8" stroke-linejoin="round" />
<polyline points="416.80,457.93 416.98,457.87 417.16,457.82 417.34,457.76 417.52,457.71 417.70,457.67 417.88,457.63 418.06,457.59 418.24,457.56 418.42,457.54 418.60,457.53 418.78,457.53 418.96,457.53 419.14,457.54 419.32,457.55 419.50,457.57 419.68,457.60 419.86,457.63 420.04,457.66 420.22,457.69 420.40,457.73 420.58,457.76 420.76,457.79 420.94,457.82 421.12,457.85 421.31,457.87 421.49,457.89 421.67,457.91 421.85,457.91 422.03,457.92 422.21,457.92 422.39,457.91 422.57,457.90 422.75,457.88 422.93,457.87 423.11,457.85 423.29,457.83 423.47,457.81 423.65,457.79 423.83,457.77 424.01,457.75 424.19,457.74 424.37,457.74 424.55,457.73 424.73,457.74 424.91,457.75 425.09,457.76 425.27,457.79 425.45,457.82 425.63,457.85 425.81,457.89 425.99,457.93 426.17,457.98 426.35,458.03 426.53,458.08 426.71,458.13 426.89,458.18 427.07,458.23 427.25,458.27 427.43,458.31 427.61,458.35 427.79,458.38 427.97,458.40 428.15,458.41 428.33,458.42 428.51,458.42 428.69,458.41 428.87,458.39 429.05,458.37 429.23,458.34 429.41,458.30 429.59,458.26 429.77,458.21 429.95,458.17 430.13,458.12 430.31,458.07 430.50,458.02 430.68,457.97 430.86,457.92 431.04,457.88 431.22,457.84 431.40,457.81 431.58,457.79 431.76,457.77 431.94,457.75 432.12,457.75 432.30,457.74 432.48,457.75 432.66,457.76 432.84,457.77 433.02,457.78 433.20,457.80 433.38,457.82 433.56,457.84 433.74,457.86 433.92,457.88 434.10,457.90 434.28,457.91 434.46,457.92 434.64,457.92 434.82,457.92 435.00,457.92 435.18,457.90 435.36,457.89 435.54,457.87 435.72,457.84 435.90,457.81 436.08,457.78 436.26,457.75 436.44,457.71 436.62,457.68 436.80,457.64 436.98,457.61 437.16,457.58 437.34,457.56 437.52,457.54 437.70,457.53 437.88,457.52 438.06,457.52 438.24,457.53 438.42,457.54 438.60,457.57 438.78,457.60 438.96,457.63 439.14,457.68 439.32,457.72 439.51,457.77 439.69,457.83 439.87,457.89 440.05,457.94 440.23,458.00 440.41,458.06 440.59,458.11 440.77,458.16 440.95,458.20 441.13,458.24 441.31,458.27 441.49,458.30 441.67,458.31 441.85,458.32 442.03,458.33 442.21,458.32 442.39,458.31 442.57,458.30 442.75,458.27 442.93,458.25 443.11,458.22 443.29,458.19 443.47,458.15 443.65,458.12 443.83,458.09 444.01,458.06 444.19,458.03 444.37,458.00 444.55,457.98 444.73,457.97 444.91,457.95 445.09,457.95 445.27,457.95 445.45,457.95 445.63,457.96 445.81,457.97 445.99,457.99 446.17,458.01 446.35,458.03 446.53,458.05 446.71,458.07 446.89,458.09 447.07,458.11 447.25,458.12 447.43,458.13 447.61,458.14 447.79,458.13 447.97,458.13 448.15,458.12 448.34,458.10 448.52,458.07 448.70,458.04 448.88,458.00 449.06,457.96 449.24,457.92 449.42,457.87 449.60,457.82 449.78,457.77 449.96,457.72 450.14,457.67 450.32,457.62 450.50,457.58 450.68,457.54 450.86,457.50 451.04,457.48 451.22,457.46 451.40,457.45 451.58,457.44 451.76,457.44 451.94,457.46 452.12,457.47 452.30,457.50 452.48,457.53 452.66,457.57 452.84,457.61 453.02,457.66 453.20,457.71 453.38,457.76 453.56,457.81 453.74,457.86 453.92,457.90 454.10,457.95 454.28,457.98 454.46,458.02 454.64,458.05 454.82,458.07 455.00,458.09 455.18,458.10 455.36,458.11 455.54,458.11 455.72,458.10 455.90,458.09 456.08,458.08 456.26,458.06 456.44,458.04 456.62,458.02 456.80,458.00 456.98,457.98 457.16,457.96 457.35,457.95 457.53,457.94 457.71,457.93 457.89,457.93 458.07,457.93 458.25,457.94 458.43,457.96 458.61,457.98 458.79,458.00 458.97,458.03 459.15,458.06 459.33,458.09 459.51,458.13 459.69,458.16 459.87,458.20 460.05,458.23 460.23,458.26 460.41,458.29 460.59,458.31 460.77,458.33 460.95,458.34 461.13,458.35 461.31,458.34 461.49,458.33 461.67,458.32 461.85,458.29 462.03,458.26 462.21,458.22 462.39,458.18 462.57,458.13 462.75,458.07 462.93,458.02 463.11,457.96 463.29,457.90 463.47,457.85 463.65,457.79 463.83,457.74 464.01,457.69 464.19,457.65 464.37,457.62 464.55,457.59 464.73,457.56 464.91,457.55 465.09,457.54 465.27,457.54 465.45,457.55 465.63,457.56 465.81,457.58 465.99,457.60 466.17,457.63 466.36,457.66 466.54,457.69 466.72,457.72 466.90,457.75 467.08,457.79 467.26,457.82 467.44,457.84 467.62,457.86 467.80,457.88 467.98,457.90 468.16,457.90 468.34,457.91 468.52,457.91 468.70,457.90 468.88,457.89 469.06,457.87 469.24,457.86 469.42,457.84 469.60,457.81 469.78,457.79 469.96,457.77 470.14,457.75 470.32,457.74 470.50,457.73 470.68,457.72 470.86,457.71 471.04,457.72 471.22,457.73 471.40,457.74 471.58,457.76 471.76,457.79 471.94,457.82 472.12,457.86 472.30,457.91 472.48,457.95 472.66,458.00 472.84,458.05 473.02,458.11 473.20,458.16 473.38,458.21 473.56,458.25 473.74,458.30 473.92,458.33 474.10,458.36 474.28,458.39 474.46,458.41 474.64,458.42 474.82,458.42 475.00,458.41 475.18,458.40 475.37,458.38 475.55,458.35 475.73,458.32 475.91,458.28 476.09,458.23 476.27,458.19 476.45,458.14 476.63,458.09 476.81,458.04 476.99,457.99 477.17,457.95 477.35,457.91 477.53,457.87 477.71,457.84 477.89,457.81 478.07,457.79 478.25,457.77 478.43,457.77 478.61,457.76 478.79,457.77 478.97,457.77 479.15,457.79 479.33,457.80 479.51,457.82 479.69,457.84 479.87,457.86 480.05,457.88 480.23,457.89 480.41,457.91 480.59,457.92 480.77,457.93 480.95,457.93 481.13,457.93 481.31,457.93 481.49,457.92 481.67,457.90 481.85,457.88 482.03,457.85 482.21,457.82 482.39,457.79 482.57,457.75 482.75,457.72 482.93,457.68 483.11,457.64 483.29,457.61 483.47,457.58 483.65,457.55 483.83,457.52 484.01,457.51 484.19,457.49 484.38,457.49 484.56,457.49 484.74,457.50 484.92,457.51 485.10,457.53 485.28,457.55 485.46,457.58 485.64,457.61 485.82,457.63 486.00,457.66 486.18,457.69 486.36,457.71 486.54,457.72 486.72,457.72 486.90,457.70 487.08,457.67 487.26,457.62 487.44,457.54 487.62,457.44 487.80,457.30 487.98,457.13 488.16,456.90 488.34,456.63 488.52,456.30 488.70,455.91 488.88,455.44 489.06,454.88 489.24,454.22 489.42,453.44 489.60,452.52 489.78,451.44 489.96,450.17 490.14,448.68 490.32,446.92 490.50,444.84 490.68,442.37 490.86,439.44 491.04,435.94 491.22,431.75 491.40,426.71 491.58,420.64 491.76,413.29 491.94,404.38 492.12,393.62 492.30,380.67 492.48,365.30 492.66,347.51 492.84,327.80 493.02,307.52 493.20,289.16 493.38,276.03 493.57,271.24 493.75,276.06 493.93,289.21 494.11,307.59 494.29,327.88 494.47,347.61 494.65,365.40 494.83,380.76 495.01,393.70 495.19,404.44 495.37,413.32 495.55,420.63 495.73,426.65 495.91,431.63 496.09,435.76 496.27,439.19 496.45,442.05 496.63,444.45 496.81,446.45 496.99,448.14 497.17,449.57 497.35,450.78 497.53,451.80 497.71,452.67 497.89,453.41 498.07,454.05 498.25,454.60 498.43,455.07 498.61,455.48 498.79,455.84 498.97,456.15 499.15,456.43 499.33,456.67 499.51,456.88 499.69,457.07 499.87,457.23 500.05,457.38 500.23,457.50 500.41,457.61 500.59,457.71 500.77,457.79 500.95,457.86 501.13,457.91 501.31,457.96 501.49,457.99 501.67,458.01 501.85,458.03 502.03,458.03 502.21,458.03 502.39,458.03 502.58,458.02 502.76,458.00 502.94,457.99 503.12,457.97 503.30,457.95 503.48,457.94 503.66,457.92 503.84,457.91 504.02,457.90 504.20,457.90 504.38,457.90 504.56,457.90 504.74,457.91 504.92,457.92 505.10,457.93 505.28,457.95 505.46,457.96 505.64,457.98 505.82,458.00 506.00,458.01 506.18,458.01 506.36,458.01 506.54,458.00 506.72,457.98 506.90,457.95 507.08,457.89 507.26,457.82 507.44,457.73 507.62,457.61 507.80,457.46 507.98,457.28 508.16,457.07 508.34,456.81 508.52,456.50 508.70,456.13 508.88,455.71 509.06,455.20 509.24,454.60 509.42,453.90 509.60,453.07 509.78,452.08 509.96,450.89 510.14,449.47 510.32,447.77 510.50,445.73 510.68,443.28 510.86,440.39 511.04,437.06 511.22,433.38 511.41,429.60 511.59,426.18 511.77,423.74 511.95,422.86 512.13,423.77 512.31,426.23 512.49,429.67 512.67,433.47 512.85,437.16 513.03,440.50 513.21,443.39 513.39,445.83 513.57,447.86 513.75,449.54 513.93,450.93 514.11,452.07 514.29,453.02 514.47,453.81 514.65,454.46 514.83,454.99 515.01,455.44 515.19,455.81 515.37,456.12 515.55,456.37 515.73,456.58 515.91,456.75 516.09,456.89 516.27,457.01 516.45,457.11 516.63,457.19 516.81,457.26 516.99,457.33 517.17,457.38 517.35,457.44 517.53,457.49 517.71,457.54 517.89,457.59 518.07,457.64 518.25,457.70 518.43,457.75 518.61,457.81 518.79,457.87 518.97,457.93 519.15,457.99 519.33,458.05 519.51,458.11 519.69,458.16 519.87,458.22 520.05,458.26 520.23,458.31 520.41,458.34 520.60,458.37 520.78,458.39 520.96,458.41 521.14,458.41 521.32,458.41 521.50,458.40 521.68,458.38 521.86,458.36 522.04,458.33 522.22,458.29 522.40,458.25 522.58,458.21 522.76,458.16 522.94,458.11 523.12,458.06 523.30,458.02 523.48,457.97 523.66,457.93 523.84,457.89 524.02,457.86 524.20,457.83 524.38,457.81 524.56,457.80 524.74,457.79 524.92,457.78 525.10,457.78 525.28,457.79 525.46,457.80 525.64,457.82 525.82,457.83 526.00,457.85 526.18,457.87 526.36,457.89 526.54,457.91 526.72,457.92 526.90,457.94 527.08,457.94 527.26,457.95 527.44,457.95 527.62,457.94 527.80,457.93 527.98,457.91 528.16,457.89 528.34,457.86 528.52,457.83 528.70,457.80 528.88,457.76 529.06,457.73 529.24,457.69 529.42,457.65 529.61,457.61 529.79,457.58 529.97,457.55 530.15,457.53 530.33,457.51 530.51,457.50 530.69,457.50 530.87,457.50 531.05,457.51 531.23,457.53 531.41,457.55 531.59,457.58 531.77,457.62 531.95,457.67 532.13,457.72 532.31,457.77 532.49,457.82 532.67,457.88 532.85,457.94 533.03,457.99 533.21,458.05 533.39,458.10 533.57,458.15 533.75,458.19 533.93,458.22 534.11,458.25 534.29,458.27 534.47,458.29 534.65,458.30 534.83,458.30 535.01,458.29 535.19,458.28 535.37,458.26 535.55,458.24 535.73,458.21 535.91,458.19 536.09,458.16 536.27,458.12 536.45,458.09 536.63,458.07 536.81,458.04 536.99,458.01 537.17,458.00 537.35,457.98 537.53,457.97 537.71,457.96 537.89,457.96 538.07,457.97 538.25,457.98 538.43,457.99 538.62,458.01 538.80,458.03 538.98,458.05 539.16,458.07 539.34,458.10 539.52,458.12 539.70,458.14 539.88,458.15 540.06,458.16 540.24,458.17 540.42,458.17 540.60,458.17 540.78,458.16 540.96,458.14 541.14,458.12 541.32,458.09 541.50,458.06 541.68,458.02 541.86,457.97 542.04,457.92 542.22,457.87 542.40,457.82 542.58,457.77 542.76,457.71 542.94,457.66 543.12,457.61 543.30,457.57 543.48,457.53 543.66,457.50 543.84,457.48 544.02,457.46 544.20,457.45 544.38,457.45 544.56,457.45 544.74,457.46 544.92,457.48 545.10,457.51 545.28,457.54 545.46,457.58 545.64,457.62 545.82,457.67 546.00,457.72 546.18,457.76 546.36,457.81 546.54,457.86 546.72,457.90 546.90,457.94 547.08,457.97 547.26,458.00 547.45,458.03 547.63,458.05 547.81,458.06 547.99,458.07 548.17,458.07 548.35,458.06 548.53,458.06 548.71,458.04 548.89,458.03 549.07,458.01 549.25,457.99 549.43,457.97 549.61,457.95 549.79,457.94 549.97,457.92 550.15,457.91 550.33,457.91 550.51,457.90 550.69,457.91 550.87,457.92 551.05,457.93 551.23,457.95 551.41,457.98 551.59,458.00 551.77,458.04 551.95,458.07 552.13,458.11 552.31,458.15 552.49,458.19 552.67,458.23 552.85,458.26 553.03,458.29 553.21,458.32 553.39,458.34 553.57,458.36 553.75,458.37 553.93,458.37 554.11,458.36 554.29,458.35 554.47,458.33 554.65,458.30 554.83,458.27 555.01,458.23 555.19,458.18 555.37,458.13 555.55,458.08 555.73,458.02 555.91,457.97 556.09,457.91 556.27,457.85 556.46,457.80 556.64,457.75 556.82,457.71 557.00,457.67 557.18,457.63 557.36,457.61 557.54,457.59 557.72,457.58 557.90,457.57 558.08,457.57 558.26,457.58 558.44,457.59 558.62,457.61 558.80,457.63 558.98,457.66 559.16,457.69 559.34,457.72 559.52,457.75 559.70,457.78 559.88,457.81 560.06,457.83 560.24,457.85 560.42,457.87 560.60,457.88 560.78,457.89 560.96,457.89 561.14,457.89 561.32,457.88 561.50,457.87 561.68,457.86 561.86,457.84 562.04,457.82 562.22,457.79 562.40,457.77 562.58,457.75 562.76,457.73 562.94,457.71 563.12,457.69 563.30,457.68 563.48,457.68 563.66,457.68 563.84,457.68 564.02,457.70 564.20,457.71 564.38,457.74 564.56,457.77 564.74,457.81 564.92,457.85 565.10,457.90 565.28,457.95 565.47,458.00 565.65,458.05 565.83,458.11 566.01,458.16 566.19,458.21 566.37,458.26 566.55,458.30 566.73,458.33 566.91,458.36 567.09,458.38 567.27,458.40 567.45,458.41 567.63,458.40 567.81,458.39 567.99,458.38 568.17,458.35 568.35,458.32 568.53,458.28 568.71,458.23 568.89,458.18 569.07,458.13 569.25,458.07 569.43,458.01 569.61,457.95 569.79,457.89 569.97,457.82 570.15,457.76 570.33,457.70 570.51,457.63 570.69,457.56 570.87,457.49 571.05,457.41 571.23,457.33 571.41,457.24 571.59,457.14 571.77,457.02 571.95,456.88 572.13,456.72 572.31,456.52 572.49,456.29 572.67,456.02 572.85,455.69 573.03,455.29 573.21,454.82 573.39,454.25 573.57,453.57 573.75,452.75 573.93,451.77 574.11,450.58 574.29,449.15 574.48,447.42 574.66,445.33 574.84,442.79 575.02,439.73 575.20,436.05 575.38,431.69 575.56,426.64 575.74,421.06 575.92,415.32 576.10,410.12 576.28,406.40 576.46,405.02 576.64,406.35 576.82,410.03 577.00,415.19 577.18,420.89 577.36,426.44 577.54,431.46 577.72,435.80 577.90,439.48 578.08,442.54 578.26,445.09 578.44,447.20 578.62,448.96 578.80,450.43 578.98,451.66 579.16,452.70 579.34,453.57 579.52,454.31 579.70,454.94 579.88,455.47 580.06,455.93 580.24,456.31 580.42,456.64 580.60,456.91 580.78,457.14 580.96,457.33 581.14,457.48 581.32,457.61 581.50,457.71 581.68,457.78 581.86,457.84 582.04,457.88 582.22,457.91 582.40,457.93 582.58,457.94 582.76,457.94 582.94,457.94 583.12,457.94 583.30,457.93 583.49,457.93 583.67,457.93 583.85,457.93 584.03,457.93 584.21,457.94 584.39,457.95 584.57,457.96 584.75,457.98 584.93,458.00 585.11,458.03 585.29,458.05 585.47,458.08 585.65,458.10 585.83,458.12 586.01,458.15 586.19,458.16 586.37,458.18 586.55,458.19 586.73,458.19 586.91,458.19 587.09,458.18 587.27,458.17 587.45,458.15 587.63,458.12 587.81,458.08 587.99,458.04 588.17,458.00 588.35,457.95 588.53,457.90 588.71,457.85 588.89,457.79 589.07,457.74 589.25,457.69 589.43,457.64 589.61,457.59 589.79,457.55 589.97,457.52 590.15,457.49 590.33,457.47 590.51,457.45 590.69,457.45 590.87,457.45 591.05,457.46 591.23,457.48 591.41,457.50 591.59,457.53 591.77,457.57 591.95,457.61 592.13,457.65 592.31,457.70 592.50,457.74 592.68,457.79 592.86,457.83 593.04,457.88 593.22,457.92 593.40,457.95 593.58,457.98 593.76,458.01 593.94,458.03 594.12,458.04 594.30,458.05 594.48,458.05 594.66,458.05 594.84,458.04 595.02,458.03 595.20,458.01 595.38,457.99 595.56,457.98 595.74,457.96 595.92,457.94 596.10,457.92 596.28,457.91 596.46,457.90 596.64,457.89 596.82,457.89 597.00,457.89 597.18,457.90 597.36,457.92 597.54,457.94 597.72,457.96 597.90,457.99 598.08,458.02 598.26,458.06 598.44,458.10 598.62,458.14 598.80,458.18 598.98,458.22 599.16,458.25 599.34,458.29 599.52,458.32 599.70,458.34 599.88,458.36 600.06,458.37 600.24,458.38 600.42,458.38 600.60,458.37 600.78,458.35 600.96,458.32 601.14,458.29 601.32,458.25 601.50,458.21 601.69,458.16 601.87,458.11 602.05,458.05 602.23,458.00 602.41,457.94 602.59,457.89 602.77,457.83 602.95,457.78 603.13,457.74 603.31,457.69 603.49,457.66 603.67,457.63 603.85,457.61 604.03,457.59 604.21,457.59 604.39,457.59 604.57,457.59 604.75,457.60 604.93,457.62 605.11,457.64 605.29,457.67 605.47,457.69 605.65,457.72 605.83,457.75 606.01,457.78 606.19,457.81 606.37,457.83 606.55,457.85 606.73,457.87 606.91,457.88 607.09,457.89 607.27,457.89 607.45,457.89 607.63,457.88 607.81,457.87 607.99,457.85 608.17,457.83 608.35,457.81 608.53,457.79 608.71,457.76 608.89,457.74 609.07,457.71 609.25,457.69 609.43,457.68 609.61,457.67 609.79,457.66 609.97,457.66 610.15,457.66 610.33,457.67 610.51,457.69 610.70,457.71 610.88,457.75 611.06,457.78 611.24,457.82 611.42,457.87 611.60,457.92 611.78,457.97 611.96,458.03 612.14,458.08 612.32,458.13 612.50,458.19 612.68,458.23 612.86,458.28 613.04,458.32 613.22,458.35 613.40,458.38 613.58,458.39 613.76,458.41 613.94,458.41 614.12,458.40 614.30,458.39 614.48,458.37 614.66,458.35 614.84,458.31 615.02,458.28 615.20,458.24 615.38,458.19 615.56,458.15 615.74,458.10 615.92,458.06 616.10,458.01 616.28,457.97 616.46,457.94 616.64,457.90 616.82,457.88 617.00,457.85 617.18,457.84 617.36,457.83 617.54,457.82 617.72,457.82 617.90,457.83 618.08,457.84 618.26,457.85 618.44,457.87 618.62,457.88 618.80,457.90 618.98,457.92 619.16,457.94 619.34,457.95 619.52,457.97 619.71,457.97 619.89,457.98 620.07,457.98 620.25,457.97 620.43,457.96 620.61,457.94 620.79,457.92 620.97,457.89 621.15,457.86 621.33,457.83 621.51,457.79 621.69,457.75 621.87,457.71 622.05,457.67 622.23,457.63 622.41,457.59 622.59,457.56 622.77,457.53 622.95,457.51 623.13,457.49 623.31,457.48 623.49,457.48 623.67,457.48 623.85,457.49 624.03,457.51 624.21,457.54 624.39,457.57 624.57,457.61 624.75,457.66 624.93,457.71 625.11,457.76 625.29,457.82 625.47,457.88 625.65,457.93 625.83,457.99 626.01,458.04 626.19,458.09 626.37,458.13 626.55,458.17 626.73,458.20 626.91,458.23 627.09,458.25 627.27,458.26 627.45,458.27 627.63,458.26 627.81,458.26 627.99,458.24 628.17,458.23 628.35,458.20 628.53,458.18 628.72,458.15 628.90,458.12 629.08,458.09 629.26,458.07 629.44,458.04 629.62,458.02 629.80,458.00 629.98,457.99 630.16,457.98 630.34,457.97 630.52,457.97 630.70,457.98 630.88,457.99 631.06,458.00 631.24,458.02 631.42,458.04 631.60,458.06 631.78,458.09 631.96,458.11 632.14,458.13 632.32,458.15 632.50,458.17 632.68,458.18 632.86,458.19 633.04,458.19 633.22,458.18 633.40,458.17 633.58,458.14 633.76,458.11 633.94,458.08 634.12,458.03 634.30,457.97 634.48,457.91 634.66,457.84 634.84,457.75 635.02,457.67 635.20,457.57 635.38,457.47 635.56,457.36 635.74,457.24 635.92,457.12 636.10,456.98 636.28,456.83 636.46,456.67 636.64,456.50 636.82,456.30 637.00,456.08 637.18,455.82 637.36,455.53 637.55,455.18 637.73,454.77 637.91,454.28 638.09,453.69 638.27,452.98 638.45,452.11 638.63,451.05 638.81,449.76 638.99,448.20 639.17,446.33 639.35,444.17 639.53,441.77 639.71,439.29 639.89,437.04 640.07,435.44 640.25,434.86 640.43,435.47 640.61,437.11 640.79,439.39 640.97,441.90 641.15,444.34 641.33,446.53 641.51,448.42 641.69,450.01 641.87,451.33 642.05,452.41 642.23,453.30 642.41,454.04 642.59,454.65 642.77,455.15 642.95,455.58 643.13,455.94 643.31,456.24 643.49,456.51 643.67,456.74 643.85,456.94 644.03,457.11 644.21,457.27 644.39,457.42 644.57,457.55 644.75,457.66 644.93,457.77 645.11,457.87 645.29,457.96 645.47,458.04 645.65,458.11 645.83,458.17 646.01,458.22 646.19,458.26 646.37,458.30 646.56,458.32 646.74,458.33 646.92,458.33 647.10,458.33 647.28,458.31 647.46,458.29 647.64,458.26 647.82,458.22 648.00,458.17 648.18,458.13 648.36,458.07 648.54,458.02 648.72,457.97 648.90,457.91 649.08,457.86 649.26,457.81 649.44,457.76 649.62,457.72 649.80,457.68 649.98,457.65 650.16,457.63 650.34,457.61 650.52,457.61 650.70,457.60 650.88,457.61 651.06,457.62 651.24,457.63 651.42,457.65 651.60,457.67 651.78,457.70 651.96,457.73 652.14,457.75 652.32,457.78 652.50,457.81 652.68,457.83 652.86,457.85 653.04,457.87 653.22,457.88 653.40,457.88 653.58,457.89 653.76,457.88 653.94,457.88 654.12,457.86 654.30,457.85 654.48,457.83 654.66,457.80 654.84,457.78 655.02,457.75 655.20,457.73 655.38,457.70 655.57,457.68 655.75,457.66 655.93,457.65 656.11,457.64 656.29,457.64 656.47,457.64 656.65,457.65 656.83,457.66 657.01,457.69 657.19,457.71 657.37,457.75 657.55,457.79 657.73,457.83 657.91,457.88 658.09,457.93 658.27,457.98 658.45,458.03 658.63,458.08 658.81,458.12 658.99,458.16 659.17,458.20 659.35,458.22 659.53,458.24 659.71,458.25 659.89,458.25 660.07,458.24 660.25,458.21 660.43,458.16 660.61,458.11 660.79,458.03 660.97,457.94 661.15,457.83 661.33,457.70 661.51,457.55 661.69,457.37 661.87,457.17 662.05,456.94 662.23,456.68 662.41,456.38 662.59,456.03 662.77,455.63 662.95,455.17 663.13,454.63 663.31,454.01 663.49,453.28 663.67,452.41 663.85,451.39 664.03,450.16 664.21,448.69 664.39,446.92 664.58,444.78 664.76,442.19 664.94,439.05 665.12,435.27 665.30,430.78 665.48,425.58 665.66,419.82 665.84,413.89 666.02,408.51 666.20,404.67 666.38,403.26 666.56,404.66 666.74,408.50 666.92,413.87 667.10,419.79 667.28,425.54 667.46,430.72 667.64,435.20 667.82,438.95 668.00,442.07 668.18,444.64 668.36,446.75 668.54,448.49 668.72,449.92 668.90,451.11 669.08,452.10 669.26,452.93 669.44,453.62 669.62,454.21 669.80,454.71 669.98,455.14 670.16,455.51 670.34,455.84 670.52,456.12 670.70,456.37 670.88,456.60 671.06,456.80 671.24,456.98 671.42,457.15 671.60,457.30 671.78,457.43 671.96,457.56 672.14,457.67 672.32,457.77 672.50,457.86 672.68,457.94 672.86,458.01 673.04,458.07 673.22,458.12 673.40,458.15 673.59,458.18 673.77,458.20 673.95,458.21 674.13,458.21 674.31,458.21 674.49,458.19 674.67,458.18 674.85,458.16 675.03,458.13 675.21,458.11 675.39,458.08 675.57,458.06 675.75,458.04 675.93,458.02 676.11,458.00 676.29,457.99 676.47,457.98 676.65,457.97 676.83,457.97 677.01,457.98 677.19,457.99 677.37,458.01 677.55,458.03 677.73,458.05 677.91,458.07 678.09,458.10 678.27,458.12 678.45,458.15 678.63,458.17 678.81,458.19 678.99,458.21 679.17,458.22 679.35,458.23 679.53,458.23 679.71,458.23 679.89,458.21 680.07,458.19 680.25,458.17 680.43,458.14 680.61,458.10 680.79,458.06 680.97,458.01 681.15,457.96 681.33,457.90 681.51,457.85 681.69,457.79 681.87,457.74 682.05,457.69 682.23,457.64 682.41,457.59 682.60,457.55 682.78,457.52 682.96,457.49 683.14,457.47 683.32,457.46 683.50,457.46 683.68,457.46 683.86,457.47 684.04,457.49 684.22,457.51 684.40,457.54 684.58,457.57 684.76,457.61 684.94,457.65 685.12,457.69 685.30,457.73 685.48,457.77 685.66,457.80 685.84,457.83 686.02,457.85 686.20,457.87 686.38,457.88 686.56,457.88 686.74,457.87 686.92,457.86 687.10,457.83 687.28,457.79 687.46,457.74 687.64,457.68 687.82,457.60 688.00,457.51 688.18,457.40 688.36,457.28 688.54,457.14 688.72,456.98 688.90,456.80 689.08,456.58 689.26,456.34 689.44,456.06 689.62,455.73 689.80,455.35 689.98,454.90 690.16,454.37 690.34,453.73 690.52,452.97 690.70,452.06 690.88,450.96 691.06,449.63 691.24,448.01 691.42,446.03 691.61,443.64 691.79,440.75 691.97,437.30 692.15,433.31 692.33,428.88 692.51,424.31 692.69,420.17 692.87,417.21 693.05,416.12 693.23,417.21 693.41,420.17 693.59,424.30 693.77,428.87 693.95,433.30 694.13,437.29 694.31,440.72 694.49,443.61 694.67,445.99 694.85,447.95 695.03,449.56 695.21,450.88 695.39,451.96 695.57,452.86 695.75,453.60 695.93,454.21 696.11,454.73 696.29,455.16 696.47,455.53 696.65,455.84 696.83,456.11 697.01,456.34 697.19,456.54 697.37,456.72 697.55,456.88 697.73,457.01 697.91,457.14 698.09,457.25 698.27,457.35 698.45,457.44 698.63,457.52 698.81,457.59 698.99,457.65 699.17,457.70 699.35,457.74 699.53,457.77 699.71,457.80 699.89,457.82 700.07,457.82 700.25,457.83 700.43,457.82 700.62,457.81 700.80,457.80 700.98,457.78 701.16,457.76 701.34,457.73 701.52,457.71 701.70,457.69 701.88,457.67 702.06,457.65 702.24,457.63 702.42,457.62 702.60,457.62 702.78,457.62 702.96,457.63 703.14,457.64 703.32,457.66 703.50,457.69 703.68,457.73 703.86,457.77 704.04,457.81 704.22,457.86 704.40,457.91 704.58,457.97 704.76,458.02 704.94,458.08 705.12,458.13" fill="none" stroke="#d09090" stroke-width="0.8" stroke-linejoin="round" />
<ellipse cx="512.3" cy="423.9" rx="5" ry="9.5" fill="none" stroke="#4444aa" stroke-width="0.8" stroke-dasharray="2,1.5"/>
<text transform="translate(475.5,442.4) rotate(-90)" font-size="7.5" text-anchor="start" dominant-baseline="central" fill="#222">Galacturonic acid</text>
<line x1="480.00" y1="438.40" x2="489.55" y2="449.60" stroke="#2233aa" stroke-width="0.7" />
<polygon points="492.80,453.40 488.03,450.89 491.08,448.30" fill="#2233aa"/>
<text transform="translate(512.5,412.3) rotate(-90)" font-size="7.9" text-anchor="start" dominant-baseline="central" fill="#222">Unknown</text>
<text transform="translate(530.9,420.5) rotate(-90)" font-size="7.9" text-anchor="start" dominant-baseline="central" fill="#222">Rhamnose</text>
<line x1="529.50" y1="420.50" x2="529.50" y2="427.00" stroke="#3344aa" stroke-width="0.7" />
<polygon points="529.50,431.50 527.50,426.50 531.50,426.50" fill="#2233aa"/>
<text transform="translate(550.4,420.5) rotate(-90)" font-size="7.9" text-anchor="start" dominant-baseline="central" fill="#222">Fucose</text>
<line x1="549.50" y1="420.50" x2="549.50" y2="427.00" stroke="#3344aa" stroke-width="0.7" />
<polygon points="549.50,431.50 547.50,426.50 551.50,426.50" fill="#2233aa"/>
<text transform="translate(578.8,396.4) rotate(-90)" font-size="7.9" text-anchor="start" dominant-baseline="central" fill="#222">Arabinose</text>
<line x1="576.60" y1="397.50" x2="576.60" y2="404.10" stroke="#3344aa" stroke-width="0.7" />
<polygon points="576.60,408.60 574.60,403.60 578.60,403.60" fill="#2233aa"/>
<text transform="translate(606.9,417.4) rotate(-90)" font-size="7.9" text-anchor="start" dominant-baseline="central" fill="#222">Xylose</text>
<line x1="606.00" y1="418.00" x2="606.00" y2="425.50" stroke="#3344aa" stroke-width="0.7" />
<polygon points="606.00,430.00 604.00,425.00 608.00,425.00" fill="#2233aa"/>
<text transform="translate(640.7,423.0) rotate(-90)" font-size="7.9" text-anchor="start" dominant-baseline="central" fill="#222">Mannose</text>
<line x1="639.90" y1="423.70" x2="639.90" y2="431.50" stroke="#3344aa" stroke-width="0.7" />
<polygon points="639.90,436.00 637.90,431.00 641.90,431.00" fill="#2233aa"/>
<text transform="translate(667.3,391.0) rotate(-90)" font-size="7.9" text-anchor="start" dominant-baseline="central" fill="#222">Glucose</text>
<line x1="666.10" y1="391.50" x2="666.10" y2="397.30" stroke="#3344aa" stroke-width="0.7" />
<polygon points="666.10,401.80 664.10,396.80 668.10,396.80" fill="#2233aa"/>
<text transform="translate(693.8,403.0) rotate(-90)" font-size="7.9" text-anchor="start" dominant-baseline="central" fill="#222">Galactose</text>
<line x1="693.40" y1="403.50" x2="693.40" y2="409.50" stroke="#3344aa" stroke-width="0.7" />
<polygon points="693.40,414.00 691.40,409.00 695.40,409.00" fill="#2233aa"/>
<line x1="44.60" y1="548.70" x2="44.60" y2="763.40" stroke="#333" stroke-width="1.1" />
<line x1="44.60" y1="763.40" x2="339.10" y2="763.40" stroke="#333" stroke-width="1.1" />
<line x1="40.60" y1="763.40" x2="44.60" y2="763.40" stroke="#333" stroke-width="1" />
<text x="37.10" y="762.70" font-size="11" text-anchor="end" dominant-baseline="central" fill="#222" >0.0</text>
<line x1="40.60" y1="727.70" x2="44.60" y2="727.70" stroke="#333" stroke-width="1" />
<text x="37.10" y="727.00" font-size="11" text-anchor="end" dominant-baseline="central" fill="#222" >0.5</text>
<line x1="40.60" y1="692.00" x2="44.60" y2="692.00" stroke="#333" stroke-width="1" />
<text x="37.10" y="691.30" font-size="11" text-anchor="end" dominant-baseline="central" fill="#222" >1.0</text>
<line x1="40.60" y1="656.30" x2="44.60" y2="656.30" stroke="#333" stroke-width="1" />
<text x="37.10" y="655.60" font-size="11" text-anchor="end" dominant-baseline="central" fill="#222" >1.5</text>
<line x1="40.60" y1="620.60" x2="44.60" y2="620.60" stroke="#333" stroke-width="1" />
<text x="37.10" y="619.90" font-size="11" text-anchor="end" dominant-baseline="central" fill="#222" >2.0</text>
<line x1="40.60" y1="584.90" x2="44.60" y2="584.90" stroke="#333" stroke-width="1" />
<text x="37.10" y="584.20" font-size="11" text-anchor="end" dominant-baseline="central" fill="#222" >2.5</text>
<line x1="40.60" y1="549.20" x2="44.60" y2="549.20" stroke="#333" stroke-width="1" />
<text x="37.10" y="548.50" font-size="11" text-anchor="end" dominant-baseline="central" fill="#222" >3.0</text>
<line x1="44.60" y1="763.40" x2="44.60" y2="767.40" stroke="#333" stroke-width="1" />
<text x="44.60" y="775.90" font-size="11" text-anchor="middle" dominant-baseline="central" fill="#222" >200</text>
<line x1="74.00" y1="763.40" x2="74.00" y2="767.40" stroke="#333" stroke-width="1" />
<text x="74.00" y="775.90" font-size="11" text-anchor="middle" dominant-baseline="central" fill="#222" >220</text>
<line x1="103.40" y1="763.40" x2="103.40" y2="767.40" stroke="#333" stroke-width="1" />
<text x="103.40" y="775.90" font-size="11" text-anchor="middle" dominant-baseline="central" fill="#222" >240</text>
<line x1="132.80" y1="763.40" x2="132.80" y2="767.40" stroke="#333" stroke-width="1" />
<text x="132.80" y="775.90" font-size="11" text-anchor="middle" dominant-baseline="central" fill="#222" >260</text>
<line x1="162.20" y1="763.40" x2="162.20" y2="767.40" stroke="#333" stroke-width="1" />
<text x="162.20" y="775.90" font-size="11" text-anchor="middle" dominant-baseline="central" fill="#222" >280</text>
<line x1="191.60" y1="763.40" x2="191.60" y2="767.40" stroke="#333" stroke-width="1" />
<text x="191.60" y="775.90" font-size="11" text-anchor="middle" dominant-baseline="central" fill="#222" >300</text>
<line x1="221.00" y1="763.40" x2="221.00" y2="767.40" stroke="#333" stroke-width="1" />
<text x="221.00" y="775.90" font-size="11" text-anchor="middle" dominant-baseline="central" fill="#222" >320</text>
<line x1="250.40" y1="763.40" x2="250.40" y2="767.40" stroke="#333" stroke-width="1" />
<text x="250.40" y="775.90" font-size="11" text-anchor="middle" dominant-baseline="central" fill="#222" >340</text>
<line x1="279.80" y1="763.40" x2="279.80" y2="767.40" stroke="#333" stroke-width="1" />
<text x="279.80" y="775.90" font-size="11" text-anchor="middle" dominant-baseline="central" fill="#222" >360</text>
<line x1="309.20" y1="763.40" x2="309.20" y2="767.40" stroke="#333" stroke-width="1" />
<text x="309.20" y="775.90" font-size="11" text-anchor="middle" dominant-baseline="central" fill="#222" >380</text>
<line x1="338.60" y1="763.40" x2="338.60" y2="767.40" stroke="#333" stroke-width="1" />
<text x="338.60" y="775.90" font-size="11" text-anchor="middle" dominant-baseline="central" fill="#222" >400</text>
<text x="194.8" y="799.4" font-size="11.5" text-anchor="middle" fill="#222">Wavelength/nm</text>
<text transform="translate(9.8,639.2) rotate(-90)" font-size="11.3" text-anchor="middle" fill="#222">Absorbance</text>
<text x="2.3" y="561" font-size="17.5" fill="#222">E</text>
<path d="M44.4,582.6 L54.4,570 L56,580 L62,576 L64,586 L66,590 L66.00,590.00 C66.33,590.50 67.02,589.52 68.00,593.00 C68.98,596.48 70.58,605.25 71.90,610.90 C73.22,616.55 74.57,621.58 75.90,626.90 C77.23,632.22 78.57,637.82 79.90,642.80 C81.23,647.78 82.40,652.13 83.90,656.80 C85.40,661.47 87.23,666.80 88.90,670.80 C90.57,674.80 92.07,677.97 93.90,680.80 C95.73,683.63 97.90,685.82 99.90,687.80 C101.90,689.78 103.90,690.55 105.90,692.70 C107.90,694.85 109.75,697.37 111.90,700.70 C114.05,704.03 116.95,709.73 118.80,712.70 C120.65,715.67 121.40,716.62 123.00,718.50 C124.60,720.38 126.12,722.52 128.40,724.00 C130.68,725.48 132.53,726.57 136.70,727.40 C140.87,728.23 147.85,728.67 153.40,729.00 C158.95,729.33 163.33,729.12 170.00,729.40 C176.67,729.68 185.05,730.20 193.40,730.70 C201.75,731.20 213.42,731.78 220.10,732.40 C226.78,733.02 228.48,733.30 233.50,734.40 C238.52,735.50 244.63,737.50 250.20,739.00 C255.77,740.50 261.33,742.00 266.90,743.40 C272.47,744.80 277.48,746.30 283.60,747.40 C289.72,748.50 296.93,749.45 303.60,750.00 C310.27,750.55 317.77,750.58 323.60,750.70 C329.43,750.82 336.10,750.70 338.60,750.70" fill="none" stroke="#4a4a9a" stroke-width="1.05"/>
<text x="142" y="644.8" font-size="10.25" fill="#222">COPs-4-SG</text>
<line x1="164.10" y1="649.10" x2="109.36" y2="688.58" stroke="#222" stroke-width="0.7" />
<polygon points="105.30,691.50 108.36,687.20 110.35,689.95" fill="#222"/>
<ellipse cx="132.7" cy="725.4" rx="8.4" ry="5" fill="none" stroke="#cc3333" stroke-width="0.9"/>
<line x1="132.70" y1="730.40" x2="132.70" y2="763.40" stroke="#cc3333" stroke-width="0.8" stroke-dasharray="2,1.5"/>
<ellipse cx="161.7" cy="728.4" rx="8.4" ry="5" fill="none" stroke="#cc3333" stroke-width="0.9"/>
<line x1="161.70" y1="733.40" x2="161.70" y2="763.40" stroke="#cc3333" stroke-width="0.8" stroke-dasharray="2,1.5"/>
<line x1="416.40" y1="549.30" x2="416.40" y2="768.20" stroke="#333" stroke-width="1.1" />
<line x1="416.40" y1="768.20" x2="712.30" y2="768.20" stroke="#333" stroke-width="1.1" />
<line x1="412.40" y1="768.20" x2="416.40" y2="768.20" stroke="#333" stroke-width="1" />
<text x="408.90" y="768.20" font-size="11" text-anchor="end" dominant-baseline="central" fill="#222" >0.88</text>
<line x1="412.40" y1="737.00" x2="416.40" y2="737.00" stroke="#333" stroke-width="1" />
<text x="408.90" y="737.00" font-size="11" text-anchor="end" dominant-baseline="central" fill="#222" >0.90</text>
<line x1="412.40" y1="705.80" x2="416.40" y2="705.80" stroke="#333" stroke-width="1" />
<text x="408.90" y="705.80" font-size="11" text-anchor="end" dominant-baseline="central" fill="#222" >0.92</text>
<line x1="412.40" y1="674.60" x2="416.40" y2="674.60" stroke="#333" stroke-width="1" />
<text x="408.90" y="674.60" font-size="11" text-anchor="end" dominant-baseline="central" fill="#222" >0.94</text>
<line x1="412.40" y1="643.40" x2="416.40" y2="643.40" stroke="#333" stroke-width="1" />
<text x="408.90" y="643.40" font-size="11" text-anchor="end" dominant-baseline="central" fill="#222" >0.96</text>
<line x1="412.40" y1="612.20" x2="416.40" y2="612.20" stroke="#333" stroke-width="1" />
<text x="408.90" y="612.20" font-size="11" text-anchor="end" dominant-baseline="central" fill="#222" >0.98</text>
<line x1="412.40" y1="581.00" x2="416.40" y2="581.00" stroke="#333" stroke-width="1" />
<text x="408.90" y="581.00" font-size="11" text-anchor="end" dominant-baseline="central" fill="#222" >1.00</text>
<line x1="412.40" y1="549.80" x2="416.40" y2="549.80" stroke="#333" stroke-width="1" />
<text x="408.90" y="549.80" font-size="11" text-anchor="end" dominant-baseline="central" fill="#222" >1.02</text>
<line x1="416.40" y1="768.20" x2="416.40" y2="772.20" stroke="#333" stroke-width="1" />
<text x="416.40" y="780.80" font-size="11" text-anchor="middle" dominant-baseline="central" fill="#222" >4000</text>
<line x1="458.60" y1="768.20" x2="458.60" y2="772.20" stroke="#333" stroke-width="1" />
<text x="458.60" y="780.80" font-size="11" text-anchor="middle" dominant-baseline="central" fill="#222" >3500</text>
<line x1="500.80" y1="768.20" x2="500.80" y2="772.20" stroke="#333" stroke-width="1" />
<text x="500.80" y="780.80" font-size="11" text-anchor="middle" dominant-baseline="central" fill="#222" >3000</text>
<line x1="543.00" y1="768.20" x2="543.00" y2="772.20" stroke="#333" stroke-width="1" />
<text x="543.00" y="780.80" font-size="11" text-anchor="middle" dominant-baseline="central" fill="#222" >2500</text>
<line x1="585.20" y1="768.20" x2="585.20" y2="772.20" stroke="#333" stroke-width="1" />
<text x="585.20" y="780.80" font-size="11" text-anchor="middle" dominant-baseline="central" fill="#222" >2000</text>
<line x1="627.40" y1="768.20" x2="627.40" y2="772.20" stroke="#333" stroke-width="1" />
<text x="627.40" y="780.80" font-size="11" text-anchor="middle" dominant-baseline="central" fill="#222" >1500</text>
<line x1="669.60" y1="768.20" x2="669.60" y2="772.20" stroke="#333" stroke-width="1" />
<text x="669.60" y="780.80" font-size="11" text-anchor="middle" dominant-baseline="central" fill="#222" >1000</text>
<line x1="711.80" y1="768.20" x2="711.80" y2="772.20" stroke="#333" stroke-width="1" />
<text x="711.80" y="780.80" font-size="11" text-anchor="middle" dominant-baseline="central" fill="#222" >500</text>
<text x="563.5" y="801" font-size="11.2" text-anchor="middle" fill="#222">Wavenumber/cm<tspan font-size="6.5" dy="-5">-1</tspan></text>
<text transform="translate(377.3,642.6) rotate(-90)" font-size="11.2" text-anchor="middle" fill="#222">Transmittance/%</text>
<text x="372" y="562" font-size="17" fill="#222">F</text>
<path d="M416.30,580.20 C417.57,580.58 422.62,581.96 423.90,582.50 C425.18,583.04 423.90,583.47 424.00,583.45 C424.10,583.43 424.33,582.27 424.50,582.38 C424.67,582.48 424.83,584.06 425.00,584.10 C425.17,584.13 425.33,582.40 425.50,582.59 C425.67,582.78 425.83,585.36 426.00,585.24 C426.17,585.13 426.33,582.29 426.50,581.90 C426.67,581.51 426.83,582.70 427.00,582.91 C427.17,583.13 427.33,581.91 427.50,583.18 C427.67,584.44 427.83,589.25 428.00,590.48 C428.17,591.71 428.33,591.11 428.50,590.54 C428.67,589.97 428.83,588.36 429.00,587.08 C429.17,585.80 429.33,582.95 429.50,582.87 C429.67,582.78 429.83,586.54 430.00,586.57 C430.17,586.59 430.33,583.11 430.50,582.99 C430.67,582.88 430.83,585.96 431.00,585.90 C431.17,585.83 431.33,582.61 431.50,582.63 C431.67,582.64 431.83,585.80 432.00,586.00 C432.17,586.20 432.33,583.88 432.50,583.82 C432.67,583.77 432.83,585.68 433.00,585.67 C433.17,585.66 433.33,583.63 433.50,583.75 C433.67,583.87 433.83,586.53 434.00,586.39 C434.17,586.24 434.33,582.78 434.50,582.86 C434.67,582.93 434.83,586.70 435.00,586.85 C435.17,587.00 435.33,584.05 435.50,583.77 C435.67,583.48 435.83,584.02 436.00,585.15 C436.17,586.27 436.33,589.60 436.50,590.50 C436.67,591.40 436.83,590.54 437.00,590.56 C437.17,590.58 437.33,590.60 437.50,590.62 C437.67,590.64 437.83,590.66 438.00,590.68 C438.17,590.70 438.33,591.33 438.50,590.74 C438.67,590.15 438.83,588.16 439.00,587.16 C439.17,586.16 439.33,584.93 439.50,584.74 C439.67,584.55 439.83,586.01 440.00,586.00 C440.17,585.99 440.33,584.63 440.50,584.68 C440.67,584.73 440.83,586.26 441.00,586.32 C441.17,586.37 441.33,584.69 441.50,585.00 C441.67,585.31 441.83,588.36 442.00,588.18 C442.17,587.99 442.33,584.34 442.50,583.87 C442.67,583.39 442.83,585.27 443.00,585.32 C443.17,585.37 443.33,583.59 443.50,584.17 C443.67,584.74 443.83,588.69 444.00,588.76 C444.17,588.84 444.33,584.32 444.50,584.61 C444.67,584.91 444.83,590.53 445.00,590.52 C445.17,590.51 445.33,585.09 445.50,584.53 C445.67,583.97 445.83,587.13 446.00,587.17 C446.17,587.21 446.33,584.86 446.50,584.78 C446.67,584.69 446.83,586.59 447.00,586.66 C447.17,586.73 447.33,585.02 447.50,585.20 C447.67,585.37 447.83,587.62 448.00,587.72 C448.17,587.82 448.33,585.71 448.50,585.80 C448.67,585.88 448.83,588.20 449.00,588.23 C449.17,588.25 449.33,585.82 449.50,585.95 C449.67,586.09 449.63,588.69 450.00,589.05 C450.37,589.40 451.42,588.26 451.70,588.10 L451.70,588.10 C453.10,589.72 457.32,594.33 460.10,597.80 C462.88,601.27 466.00,606.17 468.40,608.90 C470.80,611.63 472.82,613.13 474.50,614.20 C476.18,615.27 477.25,615.30 478.50,615.30 C479.75,615.30 479.97,615.95 482.00,614.20 C484.03,612.45 487.17,607.85 490.70,604.80 C494.23,601.75 499.50,598.08 503.20,595.90 C506.90,593.72 509.43,593.00 512.90,591.70 C516.37,590.40 520.98,588.85 524.00,588.10 C527.02,587.35 528.67,586.97 531.00,587.20 C533.33,587.43 534.98,589.58 538.00,589.50 C541.02,589.42 544.00,586.70 549.10,586.70 C554.20,586.70 564.98,588.67 568.60,589.50 C572.22,590.33 570.25,592.63 570.80,591.70 C571.35,590.77 569.95,585.28 571.90,583.90 C573.85,582.52 579.48,583.82 582.50,583.40 C585.52,582.98 586.55,582.00 590.00,581.40 C593.45,580.80 600.68,579.25 603.20,579.80 C605.72,580.35 604.18,584.12 605.10,584.70 C606.02,585.28 607.78,582.85 608.70,583.30 C609.62,583.75 609.83,583.05 610.60,587.40 C611.37,591.75 612.38,602.30 613.30,609.40 C614.22,616.50 615.42,627.72 616.10,630.00 C616.78,632.28 616.72,627.90 617.40,623.10 C618.08,618.30 619.37,605.77 620.20,601.20 C621.03,596.63 621.58,595.93 622.40,595.70 C623.22,595.47 623.87,594.32 625.10,599.80 C626.33,605.28 628.33,616.02 629.80,628.60 C631.27,641.18 632.75,673.02 633.90,675.30 C635.05,677.58 635.55,652.37 636.70,642.30 C637.85,632.23 639.43,624.73 640.80,614.90 C642.17,605.07 643.53,589.02 644.90,583.30 C646.27,577.58 647.85,580.37 649.00,580.60 C650.15,580.83 650.88,576.70 651.80,584.70 C652.72,592.70 653.58,609.38 654.50,628.60 C655.42,647.82 656.62,687.65 657.30,700.00 C657.98,712.35 658.02,695.83 658.60,702.70 C659.18,709.57 660.25,735.70 660.80,741.20 C661.35,746.70 661.12,748.97 661.90,735.70 C662.68,722.43 664.45,671.67 665.50,661.60 C666.55,651.53 667.52,680.33 668.20,675.30 C668.88,670.27 669.00,639.18 669.60,631.40 C670.20,623.62 671.25,636.38 671.80,628.60 C672.35,620.82 672.27,593.02 672.90,584.70 C673.53,576.38 674.78,579.52 675.60,578.70 C676.42,577.88 677.20,571.93 677.80,579.80 C678.40,587.67 678.83,625.77 679.20,625.90 C679.57,626.03 679.53,588.15 680.00,580.60 C680.47,573.05 681.45,579.68 682.00,580.60 C682.55,581.52 682.85,585.65 683.30,586.10 C683.75,586.55 684.23,583.08 684.70,583.30 C685.17,583.52 685.42,584.42 686.10,587.40 C686.78,590.38 687.98,599.13 688.80,601.20 C689.62,603.27 690.45,596.60 691.00,599.80 C691.55,603.00 691.32,616.05 692.10,620.40 C692.88,624.75 694.65,618.13 695.70,625.90 C696.75,633.67 697.72,661.05 698.40,667.00 C699.08,672.95 699.12,676.00 699.80,661.60 C700.48,647.20 702.05,594.10 702.50,580.60" fill="none" stroke="#4444a8" stroke-width="0.95"/>
<text x="464.20" y="637.30" font-size="7.7" text-anchor="middle" dominant-baseline="central" fill="#222" class="n">3346</text>
<line x1="465.60" y1="634.00" x2="473.43" y2="620.25" stroke="#222" stroke-width="0.6" />
<polygon points="475.90,615.90 474.82,621.04 472.04,619.45" fill="#222"/>
<text x="509.60" y="617.80" font-size="7.7" text-anchor="middle" dominant-baseline="central" fill="#222" class="n">2927</text>
<line x1="508.70" y1="613.10" x2="506.15" y2="601.29" stroke="#222" stroke-width="0.6" />
<polygon points="505.10,596.40 507.72,600.95 504.59,601.62" fill="#222"/>
<text x="597.80" y="611.70" font-size="7.7" text-anchor="middle" dominant-baseline="central" fill="#222" class="n">1734</text>
<line x1="599.10" y1="606.20" x2="602.70" y2="591.56" stroke="#222" stroke-width="0.6" />
<polygon points="603.90,586.70 604.26,591.94 601.15,591.17" fill="#222"/>
<text x="608.70" y="654.70" font-size="7.7" text-anchor="middle" dominant-baseline="central" fill="#222" class="n">1641</text>
<line x1="609.20" y1="647.80" x2="614.29" y2="634.66" stroke="#222" stroke-width="0.6" />
<polygon points="616.10,630.00 615.78,635.24 612.80,634.08" fill="#222"/>
<text x="636.10" y="697.80" font-size="7.7" text-anchor="middle" dominant-baseline="central" fill="#222" class="n">1421</text>
<line x1="635.30" y1="691.80" x2="634.32" y2="680.28" stroke="#222" stroke-width="0.6" />
<polygon points="633.90,675.30 635.92,680.15 632.73,680.42" fill="#222"/>
<text x="648.20" y="718.70" font-size="7.7" text-anchor="middle" dominant-baseline="central" fill="#222" class="n">1151</text>
<line x1="650.40" y1="712.30" x2="654.85" y2="704.36" stroke="#222" stroke-width="0.6" />
<polygon points="657.30,700.00 656.25,705.14 653.46,703.58" fill="#222"/>
<text x="644.90" y="761.20" font-size="7.7" text-anchor="middle" dominant-baseline="central" fill="#222" class="n">1082</text>
<line x1="649.00" y1="756.30" x2="657.72" y2="745.14" stroke="#222" stroke-width="0.6" />
<polygon points="660.80,741.20 658.98,746.12 656.46,744.15" fill="#222"/>
<text x="674.50" y="699.20" font-size="7.7" text-anchor="middle" dominant-baseline="central" fill="#222" class="n">1019</text>
<line x1="672.30" y1="694.50" x2="670.05" y2="682.91" stroke="#222" stroke-width="0.6" />
<polygon points="669.10,678.00 671.62,682.60 668.48,683.21" fill="#222"/>
<text x="684.70" y="565.50" font-size="7.7" text-anchor="middle" dominant-baseline="central" fill="#222" class="n">900</text>
<line x1="683.30" y1="568.80" x2="680.07" y2="573.64" stroke="#222" stroke-width="0.6" />
<polygon points="677.30,577.80 678.74,572.75 681.40,574.53" fill="#222"/>
<text x="685.50" y="606.10" font-size="7.7" text-anchor="middle" dominant-baseline="central" fill="#222" class="n">800</text>
<line x1="683.30" y1="598.40" x2="683.30" y2="592.40" stroke="#222" stroke-width="0.6" />
<polygon points="683.30,587.40 684.90,592.40 681.70,592.40" fill="#222"/>
</svg></body></html>
